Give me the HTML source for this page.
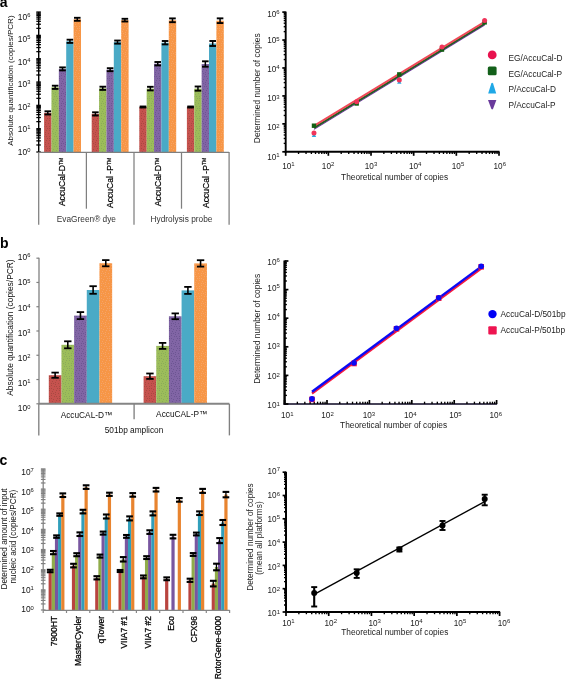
<!DOCTYPE html>
<html><head><meta charset="utf-8"><style>
html,body{margin:0;padding:0;background:#fff;}
svg{display:block;font-family:"Liberation Sans", sans-serif;will-change:transform;}
</style></head><body>
<svg width="566" height="680" viewBox="0 0 566 680">
<defs><pattern id="p0" width="10" height="10" patternUnits="userSpaceOnUse"><rect width="10" height="10" fill="#c6524e"/><rect x="5" y="2" width="1" height="1" fill="#a84a42"/><rect x="6" y="0" width="1" height="1" fill="#a84a42"/><rect x="1" y="8" width="1" height="1" fill="#a84a42"/><rect x="1" y="5" width="1" height="1" fill="#a84a42"/><rect x="9" y="0" width="1" height="1" fill="#a84a42"/><rect x="8" y="3" width="1" height="1" fill="#a84a42"/><rect x="6" y="6" width="1" height="1" fill="#a84a42"/><rect x="1" y="3" width="1" height="1" fill="#a84a42"/><rect x="3" y="9" width="1" height="1" fill="#a84a42"/><rect x="9" y="6" width="1" height="1" fill="#a84a42"/><rect x="7" y="8" width="1" height="1" fill="#a84a42"/><rect x="4" y="6" width="1" height="1" fill="#a84a42"/><rect x="2" y="1" width="1" height="1" fill="#a84a42"/><rect x="3" y="3" width="1" height="1" fill="#a84a42"/><rect x="5" y="4" width="1" height="1" fill="#a84a42"/><rect x="9" y="8" width="1" height="1" fill="#a84a42"/></pattern><pattern id="p1" width="10" height="10" patternUnits="userSpaceOnUse"><rect width="10" height="10" fill="#9cbd5a"/><rect x="5" y="2" width="1" height="1" fill="#8aab5a"/><rect x="6" y="0" width="1" height="1" fill="#8aab5a"/><rect x="1" y="8" width="1" height="1" fill="#8aab5a"/><rect x="1" y="5" width="1" height="1" fill="#8aab5a"/><rect x="9" y="0" width="1" height="1" fill="#8aab5a"/><rect x="8" y="3" width="1" height="1" fill="#8aab5a"/><rect x="6" y="6" width="1" height="1" fill="#8aab5a"/><rect x="1" y="3" width="1" height="1" fill="#8aab5a"/><rect x="3" y="9" width="1" height="1" fill="#8aab5a"/><rect x="9" y="6" width="1" height="1" fill="#8aab5a"/><rect x="7" y="8" width="1" height="1" fill="#8aab5a"/><rect x="4" y="6" width="1" height="1" fill="#8aab5a"/><rect x="2" y="1" width="1" height="1" fill="#8aab5a"/><rect x="3" y="3" width="1" height="1" fill="#8aab5a"/><rect x="5" y="4" width="1" height="1" fill="#8aab5a"/><rect x="9" y="8" width="1" height="1" fill="#8aab5a"/></pattern><pattern id="p2" width="10" height="10" patternUnits="userSpaceOnUse"><rect width="10" height="10" fill="#8165a5"/><rect x="5" y="2" width="1" height="1" fill="#6c5692"/><rect x="6" y="0" width="1" height="1" fill="#6c5692"/><rect x="1" y="8" width="1" height="1" fill="#6c5692"/><rect x="1" y="5" width="1" height="1" fill="#6c5692"/><rect x="9" y="0" width="1" height="1" fill="#6c5692"/><rect x="8" y="3" width="1" height="1" fill="#6c5692"/><rect x="6" y="6" width="1" height="1" fill="#6c5692"/><rect x="1" y="3" width="1" height="1" fill="#6c5692"/><rect x="3" y="9" width="1" height="1" fill="#6c5692"/><rect x="9" y="6" width="1" height="1" fill="#6c5692"/><rect x="7" y="8" width="1" height="1" fill="#6c5692"/><rect x="4" y="6" width="1" height="1" fill="#6c5692"/><rect x="2" y="1" width="1" height="1" fill="#6c5692"/><rect x="3" y="3" width="1" height="1" fill="#6c5692"/><rect x="5" y="4" width="1" height="1" fill="#6c5692"/><rect x="9" y="8" width="1" height="1" fill="#6c5692"/></pattern><pattern id="p4" width="10" height="10" patternUnits="userSpaceOnUse"><rect width="10" height="10" fill="#f79646"/><rect x="5" y="2" width="1" height="1" fill="#f6a466"/><rect x="6" y="0" width="1" height="1" fill="#f6a466"/><rect x="1" y="8" width="1" height="1" fill="#f6a466"/><rect x="1" y="5" width="1" height="1" fill="#f6a466"/><rect x="9" y="0" width="1" height="1" fill="#f6a466"/><rect x="8" y="3" width="1" height="1" fill="#f6a466"/><rect x="6" y="6" width="1" height="1" fill="#f6a466"/><rect x="1" y="3" width="1" height="1" fill="#f6a466"/><rect x="3" y="9" width="1" height="1" fill="#f6a466"/><rect x="9" y="6" width="1" height="1" fill="#f6a466"/><rect x="7" y="8" width="1" height="1" fill="#f6a466"/><rect x="4" y="6" width="1" height="1" fill="#f6a466"/><rect x="2" y="1" width="1" height="1" fill="#f6a466"/><rect x="3" y="3" width="1" height="1" fill="#f6a466"/><rect x="5" y="4" width="1" height="1" fill="#f6a466"/><rect x="9" y="8" width="1" height="1" fill="#f6a466"/></pattern></defs>
<rect width="566" height="680" fill="#fff"/>
<text x="-0.3" y="7.4" font-size="14" text-anchor="start" fill="#000" font-weight="bold">a</text>
<rect x="44.1" y="112.9" width="7.42" height="39.1" fill="url(#p0)"/>
<rect x="51.47" y="87.3" width="7.42" height="64.7" fill="url(#p1)"/>
<rect x="58.84" y="68.9" width="7.42" height="83.1" fill="url(#p2)"/>
<rect x="66.21" y="41.3" width="7.42" height="110.7" fill="#4aaac6"/>
<rect x="73.58" y="19.3" width="7.42" height="132.7" fill="url(#p4)"/>
<rect x="91.7" y="113.9" width="7.42" height="38.1" fill="url(#p0)"/>
<rect x="99.07" y="88.3" width="7.42" height="63.7" fill="url(#p1)"/>
<rect x="106.44" y="69.7" width="7.42" height="82.3" fill="url(#p2)"/>
<rect x="113.81" y="42.1" width="7.42" height="109.9" fill="#4aaac6"/>
<rect x="121.18" y="20.15" width="7.42" height="131.85" fill="url(#p4)"/>
<rect x="139.3" y="107" width="7.42" height="45" fill="url(#p0)"/>
<rect x="146.67" y="88.6" width="7.42" height="63.4" fill="url(#p1)"/>
<rect x="154.04" y="63.7" width="7.42" height="88.3" fill="url(#p2)"/>
<rect x="161.41" y="42.7" width="7.42" height="109.3" fill="#4aaac6"/>
<rect x="168.78" y="20.3" width="7.42" height="131.7" fill="url(#p4)"/>
<rect x="186.9" y="107" width="7.42" height="45" fill="url(#p0)"/>
<rect x="194.27" y="88.6" width="7.42" height="63.4" fill="url(#p1)"/>
<rect x="201.64" y="64" width="7.42" height="88" fill="url(#p2)"/>
<rect x="209.01" y="43.5" width="7.42" height="108.5" fill="#4aaac6"/>
<rect x="216.38" y="20.7" width="7.42" height="131.3" fill="url(#p4)"/>
<line x1="47.79" y1="111.3" x2="47.79" y2="114.5" stroke="#000" stroke-width="1.5" />
<line x1="44.49" y1="111.3" x2="51.09" y2="111.3" stroke="#000" stroke-width="1.9" />
<line x1="44.49" y1="114.5" x2="51.09" y2="114.5" stroke="#000" stroke-width="1.9" />
<line x1="55.16" y1="85.7" x2="55.16" y2="88.9" stroke="#000" stroke-width="1.5" />
<line x1="51.86" y1="85.7" x2="58.45" y2="85.7" stroke="#000" stroke-width="1.9" />
<line x1="51.86" y1="88.9" x2="58.45" y2="88.9" stroke="#000" stroke-width="1.9" />
<line x1="62.53" y1="67.4" x2="62.53" y2="70.4" stroke="#000" stroke-width="1.5" />
<line x1="59.23" y1="67.4" x2="65.83" y2="67.4" stroke="#000" stroke-width="1.9" />
<line x1="59.23" y1="70.4" x2="65.83" y2="70.4" stroke="#000" stroke-width="1.9" />
<line x1="69.9" y1="39.7" x2="69.9" y2="42.9" stroke="#000" stroke-width="1.5" />
<line x1="66.6" y1="39.7" x2="73.2" y2="39.7" stroke="#000" stroke-width="1.9" />
<line x1="66.6" y1="42.9" x2="73.2" y2="42.9" stroke="#000" stroke-width="1.9" />
<line x1="77.27" y1="17.8" x2="77.27" y2="20.8" stroke="#000" stroke-width="1.5" />
<line x1="73.97" y1="17.8" x2="80.56" y2="17.8" stroke="#000" stroke-width="1.9" />
<line x1="73.97" y1="20.8" x2="80.56" y2="20.8" stroke="#000" stroke-width="1.9" />
<line x1="95.39" y1="112.3" x2="95.39" y2="115.5" stroke="#000" stroke-width="1.5" />
<line x1="92.09" y1="112.3" x2="98.69" y2="112.3" stroke="#000" stroke-width="1.9" />
<line x1="92.09" y1="115.5" x2="98.69" y2="115.5" stroke="#000" stroke-width="1.9" />
<line x1="102.76" y1="86.7" x2="102.76" y2="89.9" stroke="#000" stroke-width="1.5" />
<line x1="99.46" y1="86.7" x2="106.06" y2="86.7" stroke="#000" stroke-width="1.9" />
<line x1="99.46" y1="89.9" x2="106.06" y2="89.9" stroke="#000" stroke-width="1.9" />
<line x1="110.12" y1="68.2" x2="110.12" y2="71.2" stroke="#000" stroke-width="1.5" />
<line x1="106.83" y1="68.2" x2="113.42" y2="68.2" stroke="#000" stroke-width="1.9" />
<line x1="106.83" y1="71.2" x2="113.42" y2="71.2" stroke="#000" stroke-width="1.9" />
<line x1="117.5" y1="40.55" x2="117.5" y2="43.65" stroke="#000" stroke-width="1.5" />
<line x1="114.2" y1="40.55" x2="120.8" y2="40.55" stroke="#000" stroke-width="1.9" />
<line x1="114.2" y1="43.65" x2="120.8" y2="43.65" stroke="#000" stroke-width="1.9" />
<line x1="124.87" y1="18.8" x2="124.87" y2="21.5" stroke="#000" stroke-width="1.5" />
<line x1="121.57" y1="18.8" x2="128.17" y2="18.8" stroke="#000" stroke-width="1.9" />
<line x1="121.57" y1="21.5" x2="128.17" y2="21.5" stroke="#000" stroke-width="1.9" />
<line x1="142.99" y1="106.5" x2="142.99" y2="107.5" stroke="#000" stroke-width="1.5" />
<line x1="139.69" y1="106.5" x2="146.29" y2="106.5" stroke="#000" stroke-width="1.9" />
<line x1="139.69" y1="107.5" x2="146.29" y2="107.5" stroke="#000" stroke-width="1.9" />
<line x1="150.36" y1="86.8" x2="150.36" y2="90.4" stroke="#000" stroke-width="1.5" />
<line x1="147.06" y1="86.8" x2="153.66" y2="86.8" stroke="#000" stroke-width="1.9" />
<line x1="147.06" y1="90.4" x2="153.66" y2="90.4" stroke="#000" stroke-width="1.9" />
<line x1="157.73" y1="62" x2="157.73" y2="65.4" stroke="#000" stroke-width="1.5" />
<line x1="154.43" y1="62" x2="161.03" y2="62" stroke="#000" stroke-width="1.9" />
<line x1="154.43" y1="65.4" x2="161.03" y2="65.4" stroke="#000" stroke-width="1.9" />
<line x1="165.1" y1="41" x2="165.1" y2="44.4" stroke="#000" stroke-width="1.5" />
<line x1="161.8" y1="41" x2="168.4" y2="41" stroke="#000" stroke-width="1.9" />
<line x1="161.8" y1="44.4" x2="168.4" y2="44.4" stroke="#000" stroke-width="1.9" />
<line x1="172.47" y1="18.4" x2="172.47" y2="22.2" stroke="#000" stroke-width="1.5" />
<line x1="169.16" y1="18.4" x2="175.77" y2="18.4" stroke="#000" stroke-width="1.9" />
<line x1="169.16" y1="22.2" x2="175.77" y2="22.2" stroke="#000" stroke-width="1.9" />
<line x1="190.59" y1="106.5" x2="190.59" y2="107.5" stroke="#000" stroke-width="1.5" />
<line x1="187.28" y1="106.5" x2="193.89" y2="106.5" stroke="#000" stroke-width="1.9" />
<line x1="187.28" y1="107.5" x2="193.89" y2="107.5" stroke="#000" stroke-width="1.9" />
<line x1="197.96" y1="86.5" x2="197.96" y2="90.7" stroke="#000" stroke-width="1.5" />
<line x1="194.66" y1="86.5" x2="201.26" y2="86.5" stroke="#000" stroke-width="1.9" />
<line x1="194.66" y1="90.7" x2="201.26" y2="90.7" stroke="#000" stroke-width="1.9" />
<line x1="205.33" y1="61.3" x2="205.33" y2="66.7" stroke="#000" stroke-width="1.5" />
<line x1="202.03" y1="61.3" x2="208.63" y2="61.3" stroke="#000" stroke-width="1.9" />
<line x1="202.03" y1="66.7" x2="208.63" y2="66.7" stroke="#000" stroke-width="1.9" />
<line x1="212.69" y1="41" x2="212.69" y2="46" stroke="#000" stroke-width="1.5" />
<line x1="209.39" y1="41" x2="216" y2="41" stroke="#000" stroke-width="1.9" />
<line x1="209.39" y1="46" x2="216" y2="46" stroke="#000" stroke-width="1.9" />
<line x1="220.06" y1="18.35" x2="220.06" y2="23.05" stroke="#000" stroke-width="1.5" />
<line x1="216.76" y1="18.35" x2="223.37" y2="18.35" stroke="#000" stroke-width="1.9" />
<line x1="216.76" y1="23.05" x2="223.37" y2="23.05" stroke="#000" stroke-width="1.9" />
<line x1="38.7" y1="12" x2="38.7" y2="152" stroke="#000" stroke-width="1.4" />
<line x1="36.3" y1="152" x2="40.9" y2="152" stroke="#000" stroke-width="1.25" />
<line x1="36.3" y1="144.98" x2="40.9" y2="144.98" stroke="#000" stroke-width="1.25" />
<line x1="36.3" y1="140.87" x2="40.9" y2="140.87" stroke="#000" stroke-width="1.25" />
<line x1="36.3" y1="137.95" x2="40.9" y2="137.95" stroke="#000" stroke-width="1.25" />
<line x1="36.3" y1="135.69" x2="40.9" y2="135.69" stroke="#000" stroke-width="1.25" />
<line x1="36.3" y1="133.85" x2="40.9" y2="133.85" stroke="#000" stroke-width="1.25" />
<line x1="36.3" y1="132.28" x2="40.9" y2="132.28" stroke="#000" stroke-width="1.25" />
<line x1="36.3" y1="130.93" x2="40.9" y2="130.93" stroke="#000" stroke-width="1.25" />
<line x1="36.3" y1="129.74" x2="40.9" y2="129.74" stroke="#000" stroke-width="1.25" />
<line x1="36.3" y1="128.67" x2="40.9" y2="128.67" stroke="#000" stroke-width="1.25" />
<line x1="36.3" y1="121.65" x2="40.9" y2="121.65" stroke="#000" stroke-width="1.25" />
<line x1="36.3" y1="117.54" x2="40.9" y2="117.54" stroke="#000" stroke-width="1.25" />
<line x1="36.3" y1="114.62" x2="40.9" y2="114.62" stroke="#000" stroke-width="1.25" />
<line x1="36.3" y1="112.36" x2="40.9" y2="112.36" stroke="#000" stroke-width="1.25" />
<line x1="36.3" y1="110.52" x2="40.9" y2="110.52" stroke="#000" stroke-width="1.25" />
<line x1="36.3" y1="108.95" x2="40.9" y2="108.95" stroke="#000" stroke-width="1.25" />
<line x1="36.3" y1="107.6" x2="40.9" y2="107.6" stroke="#000" stroke-width="1.25" />
<line x1="36.3" y1="106.41" x2="40.9" y2="106.41" stroke="#000" stroke-width="1.25" />
<line x1="36.3" y1="105.34" x2="40.9" y2="105.34" stroke="#000" stroke-width="1.25" />
<line x1="36.3" y1="98.32" x2="40.9" y2="98.32" stroke="#000" stroke-width="1.25" />
<line x1="36.3" y1="94.21" x2="40.9" y2="94.21" stroke="#000" stroke-width="1.25" />
<line x1="36.3" y1="91.29" x2="40.9" y2="91.29" stroke="#000" stroke-width="1.25" />
<line x1="36.3" y1="89.03" x2="40.9" y2="89.03" stroke="#000" stroke-width="1.25" />
<line x1="36.3" y1="87.19" x2="40.9" y2="87.19" stroke="#000" stroke-width="1.25" />
<line x1="36.3" y1="85.62" x2="40.9" y2="85.62" stroke="#000" stroke-width="1.25" />
<line x1="36.3" y1="84.27" x2="40.9" y2="84.27" stroke="#000" stroke-width="1.25" />
<line x1="36.3" y1="83.08" x2="40.9" y2="83.08" stroke="#000" stroke-width="1.25" />
<line x1="36.3" y1="82.01" x2="40.9" y2="82.01" stroke="#000" stroke-width="1.25" />
<line x1="36.3" y1="74.99" x2="40.9" y2="74.99" stroke="#000" stroke-width="1.25" />
<line x1="36.3" y1="70.88" x2="40.9" y2="70.88" stroke="#000" stroke-width="1.25" />
<line x1="36.3" y1="67.96" x2="40.9" y2="67.96" stroke="#000" stroke-width="1.25" />
<line x1="36.3" y1="65.7" x2="40.9" y2="65.7" stroke="#000" stroke-width="1.25" />
<line x1="36.3" y1="63.86" x2="40.9" y2="63.86" stroke="#000" stroke-width="1.25" />
<line x1="36.3" y1="62.29" x2="40.9" y2="62.29" stroke="#000" stroke-width="1.25" />
<line x1="36.3" y1="60.94" x2="40.9" y2="60.94" stroke="#000" stroke-width="1.25" />
<line x1="36.3" y1="59.75" x2="40.9" y2="59.75" stroke="#000" stroke-width="1.25" />
<line x1="36.3" y1="58.68" x2="40.9" y2="58.68" stroke="#000" stroke-width="1.25" />
<line x1="36.3" y1="51.66" x2="40.9" y2="51.66" stroke="#000" stroke-width="1.25" />
<line x1="36.3" y1="47.55" x2="40.9" y2="47.55" stroke="#000" stroke-width="1.25" />
<line x1="36.3" y1="44.63" x2="40.9" y2="44.63" stroke="#000" stroke-width="1.25" />
<line x1="36.3" y1="42.37" x2="40.9" y2="42.37" stroke="#000" stroke-width="1.25" />
<line x1="36.3" y1="40.53" x2="40.9" y2="40.53" stroke="#000" stroke-width="1.25" />
<line x1="36.3" y1="38.96" x2="40.9" y2="38.96" stroke="#000" stroke-width="1.25" />
<line x1="36.3" y1="37.61" x2="40.9" y2="37.61" stroke="#000" stroke-width="1.25" />
<line x1="36.3" y1="36.42" x2="40.9" y2="36.42" stroke="#000" stroke-width="1.25" />
<line x1="36.3" y1="35.35" x2="40.9" y2="35.35" stroke="#000" stroke-width="1.25" />
<line x1="36.3" y1="28.33" x2="40.9" y2="28.33" stroke="#000" stroke-width="1.25" />
<line x1="36.3" y1="24.22" x2="40.9" y2="24.22" stroke="#000" stroke-width="1.25" />
<line x1="36.3" y1="21.3" x2="40.9" y2="21.3" stroke="#000" stroke-width="1.25" />
<line x1="36.3" y1="19.04" x2="40.9" y2="19.04" stroke="#000" stroke-width="1.25" />
<line x1="36.3" y1="17.2" x2="40.9" y2="17.2" stroke="#000" stroke-width="1.25" />
<line x1="36.3" y1="15.63" x2="40.9" y2="15.63" stroke="#000" stroke-width="1.25" />
<line x1="36.3" y1="14.28" x2="40.9" y2="14.28" stroke="#000" stroke-width="1.25" />
<line x1="36.3" y1="13.09" x2="40.9" y2="13.09" stroke="#000" stroke-width="1.25" />
<line x1="36.3" y1="12.02" x2="40.9" y2="12.02" stroke="#000" stroke-width="1.25" />
<text x="30.4" y="154.7" font-size="8.4" text-anchor="end" fill="#111">10<tspan font-size="5.8" dy="-2.8">0</tspan></text>
<text x="30.4" y="132.2" font-size="8.4" text-anchor="end" fill="#111">10<tspan font-size="5.8" dy="-2.8">1</tspan></text>
<text x="30.4" y="109.7" font-size="8.4" text-anchor="end" fill="#111">10<tspan font-size="5.8" dy="-2.8">2</tspan></text>
<text x="30.4" y="87.2" font-size="8.4" text-anchor="end" fill="#111">10<tspan font-size="5.8" dy="-2.8">3</tspan></text>
<text x="30.4" y="64.7" font-size="8.4" text-anchor="end" fill="#111">10<tspan font-size="5.8" dy="-2.8">4</tspan></text>
<text x="30.4" y="42.2" font-size="8.4" text-anchor="end" fill="#111">10<tspan font-size="5.8" dy="-2.8">5</tspan></text>
<text x="30.4" y="19.7" font-size="8.4" text-anchor="end" fill="#111">10<tspan font-size="5.8" dy="-2.8">6</tspan></text>
<text x="12.6" y="80.6" font-size="8" text-anchor="middle" fill="#111" transform="rotate(-90 12.6 80.6)" >Absolute quantification (copies/PCR)</text>
<line x1="38.7" y1="152.45" x2="229.1" y2="152.45" stroke="#7f7f7f" stroke-width="1.2" />
<line x1="38.7" y1="152" x2="38.7" y2="224.7" stroke="#7f7f7f" stroke-width="1.25" />
<line x1="86.4" y1="152" x2="86.4" y2="208.7" stroke="#7f7f7f" stroke-width="1.25" />
<line x1="134" y1="152" x2="134" y2="224.7" stroke="#7f7f7f" stroke-width="1.25" />
<line x1="181.5" y1="152" x2="181.5" y2="208.7" stroke="#7f7f7f" stroke-width="1.25" />
<line x1="229.1" y1="152" x2="229.1" y2="224.7" stroke="#7f7f7f" stroke-width="1.25" />
<text x="65.5" y="157.8" font-size="8.6" text-anchor="end" fill="#000" transform="rotate(-90 65.5 157.8)" stroke="#000" stroke-width="0.2">AccuCal-D<tspan font-size="5" dy="-2.5">TM</tspan></text>
<text x="113.1" y="157.8" font-size="8.6" text-anchor="end" fill="#000" transform="rotate(-90 113.1 157.8)" stroke="#000" stroke-width="0.2">AccuCal -P<tspan font-size="5" dy="-2.5">TM</tspan></text>
<text x="161.2" y="157.8" font-size="8.6" text-anchor="end" fill="#000" transform="rotate(-90 161.2 157.8)" stroke="#000" stroke-width="0.2">AccuCal-D<tspan font-size="5" dy="-2.5">TM</tspan></text>
<text x="208.8" y="157.8" font-size="8.6" text-anchor="end" fill="#000" transform="rotate(-90 208.8 157.8)" stroke="#000" stroke-width="0.2">AccuCal -P<tspan font-size="5" dy="-2.5">TM</tspan></text>
<text x="86.4" y="222" font-size="8.3" text-anchor="middle" fill="#333" >EvaGreen® dye</text>
<text x="181.5" y="222" font-size="8.3" text-anchor="middle" fill="#333" >Hydrolysis probe</text>
<line x1="285.7" y1="11.6" x2="285.7" y2="152.7" stroke="#000" stroke-width="1.9" />
<line x1="284.8" y1="151.8" x2="499.5" y2="151.8" stroke="#000" stroke-width="1.9" />
<line x1="282.3" y1="151.8" x2="285.7" y2="151.8" stroke="#000" stroke-width="1.7" />
<line x1="283.7" y1="143.39" x2="285.7" y2="143.39" stroke="#000" stroke-width="1.35" />
<line x1="283.7" y1="138.47" x2="285.7" y2="138.47" stroke="#000" stroke-width="1.35" />
<line x1="283.7" y1="134.98" x2="285.7" y2="134.98" stroke="#000" stroke-width="1.35" />
<line x1="283.7" y1="132.27" x2="285.7" y2="132.27" stroke="#000" stroke-width="1.35" />
<line x1="283.7" y1="130.06" x2="285.7" y2="130.06" stroke="#000" stroke-width="1.35" />
<line x1="283.7" y1="128.19" x2="285.7" y2="128.19" stroke="#000" stroke-width="1.35" />
<line x1="283.7" y1="126.57" x2="285.7" y2="126.57" stroke="#000" stroke-width="1.35" />
<line x1="283.7" y1="125.14" x2="285.7" y2="125.14" stroke="#000" stroke-width="1.35" />
<line x1="282.3" y1="123.86" x2="285.7" y2="123.86" stroke="#000" stroke-width="1.7" />
<line x1="283.7" y1="115.45" x2="285.7" y2="115.45" stroke="#000" stroke-width="1.35" />
<line x1="283.7" y1="110.53" x2="285.7" y2="110.53" stroke="#000" stroke-width="1.35" />
<line x1="283.7" y1="107.04" x2="285.7" y2="107.04" stroke="#000" stroke-width="1.35" />
<line x1="283.7" y1="104.33" x2="285.7" y2="104.33" stroke="#000" stroke-width="1.35" />
<line x1="283.7" y1="102.12" x2="285.7" y2="102.12" stroke="#000" stroke-width="1.35" />
<line x1="283.7" y1="100.25" x2="285.7" y2="100.25" stroke="#000" stroke-width="1.35" />
<line x1="283.7" y1="98.63" x2="285.7" y2="98.63" stroke="#000" stroke-width="1.35" />
<line x1="283.7" y1="97.2" x2="285.7" y2="97.2" stroke="#000" stroke-width="1.35" />
<line x1="282.3" y1="95.92" x2="285.7" y2="95.92" stroke="#000" stroke-width="1.7" />
<line x1="283.7" y1="87.51" x2="285.7" y2="87.51" stroke="#000" stroke-width="1.35" />
<line x1="283.7" y1="82.59" x2="285.7" y2="82.59" stroke="#000" stroke-width="1.35" />
<line x1="283.7" y1="79.1" x2="285.7" y2="79.1" stroke="#000" stroke-width="1.35" />
<line x1="283.7" y1="76.39" x2="285.7" y2="76.39" stroke="#000" stroke-width="1.35" />
<line x1="283.7" y1="74.18" x2="285.7" y2="74.18" stroke="#000" stroke-width="1.35" />
<line x1="283.7" y1="72.31" x2="285.7" y2="72.31" stroke="#000" stroke-width="1.35" />
<line x1="283.7" y1="70.69" x2="285.7" y2="70.69" stroke="#000" stroke-width="1.35" />
<line x1="283.7" y1="69.26" x2="285.7" y2="69.26" stroke="#000" stroke-width="1.35" />
<line x1="282.3" y1="67.98" x2="285.7" y2="67.98" stroke="#000" stroke-width="1.7" />
<line x1="283.7" y1="59.57" x2="285.7" y2="59.57" stroke="#000" stroke-width="1.35" />
<line x1="283.7" y1="54.65" x2="285.7" y2="54.65" stroke="#000" stroke-width="1.35" />
<line x1="283.7" y1="51.16" x2="285.7" y2="51.16" stroke="#000" stroke-width="1.35" />
<line x1="283.7" y1="48.45" x2="285.7" y2="48.45" stroke="#000" stroke-width="1.35" />
<line x1="283.7" y1="46.24" x2="285.7" y2="46.24" stroke="#000" stroke-width="1.35" />
<line x1="283.7" y1="44.37" x2="285.7" y2="44.37" stroke="#000" stroke-width="1.35" />
<line x1="283.7" y1="42.75" x2="285.7" y2="42.75" stroke="#000" stroke-width="1.35" />
<line x1="283.7" y1="41.32" x2="285.7" y2="41.32" stroke="#000" stroke-width="1.35" />
<line x1="282.3" y1="40.04" x2="285.7" y2="40.04" stroke="#000" stroke-width="1.7" />
<line x1="283.7" y1="31.63" x2="285.7" y2="31.63" stroke="#000" stroke-width="1.35" />
<line x1="283.7" y1="26.71" x2="285.7" y2="26.71" stroke="#000" stroke-width="1.35" />
<line x1="283.7" y1="23.22" x2="285.7" y2="23.22" stroke="#000" stroke-width="1.35" />
<line x1="283.7" y1="20.51" x2="285.7" y2="20.51" stroke="#000" stroke-width="1.35" />
<line x1="283.7" y1="18.3" x2="285.7" y2="18.3" stroke="#000" stroke-width="1.35" />
<line x1="283.7" y1="16.43" x2="285.7" y2="16.43" stroke="#000" stroke-width="1.35" />
<line x1="283.7" y1="14.81" x2="285.7" y2="14.81" stroke="#000" stroke-width="1.35" />
<line x1="283.7" y1="13.38" x2="285.7" y2="13.38" stroke="#000" stroke-width="1.35" />
<line x1="282.3" y1="12.1" x2="285.7" y2="12.1" stroke="#000" stroke-width="1.7" />
<line x1="285.7" y1="151.8" x2="285.7" y2="155.8" stroke="#000" stroke-width="1.7" />
<line x1="298.54" y1="151.8" x2="298.54" y2="154" stroke="#000" stroke-width="1.35" />
<line x1="306.05" y1="151.8" x2="306.05" y2="154" stroke="#000" stroke-width="1.35" />
<line x1="311.38" y1="151.8" x2="311.38" y2="154" stroke="#000" stroke-width="1.35" />
<line x1="315.52" y1="151.8" x2="315.52" y2="154" stroke="#000" stroke-width="1.35" />
<line x1="318.9" y1="151.8" x2="318.9" y2="154" stroke="#000" stroke-width="1.35" />
<line x1="321.75" y1="151.8" x2="321.75" y2="154" stroke="#000" stroke-width="1.35" />
<line x1="324.23" y1="151.8" x2="324.23" y2="154" stroke="#000" stroke-width="1.35" />
<line x1="326.41" y1="151.8" x2="326.41" y2="154" stroke="#000" stroke-width="1.35" />
<line x1="328.36" y1="151.8" x2="328.36" y2="155.8" stroke="#000" stroke-width="1.7" />
<line x1="341.2" y1="151.8" x2="341.2" y2="154" stroke="#000" stroke-width="1.35" />
<line x1="348.71" y1="151.8" x2="348.71" y2="154" stroke="#000" stroke-width="1.35" />
<line x1="354.04" y1="151.8" x2="354.04" y2="154" stroke="#000" stroke-width="1.35" />
<line x1="358.18" y1="151.8" x2="358.18" y2="154" stroke="#000" stroke-width="1.35" />
<line x1="361.56" y1="151.8" x2="361.56" y2="154" stroke="#000" stroke-width="1.35" />
<line x1="364.41" y1="151.8" x2="364.41" y2="154" stroke="#000" stroke-width="1.35" />
<line x1="366.89" y1="151.8" x2="366.89" y2="154" stroke="#000" stroke-width="1.35" />
<line x1="369.07" y1="151.8" x2="369.07" y2="154" stroke="#000" stroke-width="1.35" />
<line x1="371.02" y1="151.8" x2="371.02" y2="155.8" stroke="#000" stroke-width="1.7" />
<line x1="383.86" y1="151.8" x2="383.86" y2="154" stroke="#000" stroke-width="1.35" />
<line x1="391.37" y1="151.8" x2="391.37" y2="154" stroke="#000" stroke-width="1.35" />
<line x1="396.7" y1="151.8" x2="396.7" y2="154" stroke="#000" stroke-width="1.35" />
<line x1="400.84" y1="151.8" x2="400.84" y2="154" stroke="#000" stroke-width="1.35" />
<line x1="404.22" y1="151.8" x2="404.22" y2="154" stroke="#000" stroke-width="1.35" />
<line x1="407.07" y1="151.8" x2="407.07" y2="154" stroke="#000" stroke-width="1.35" />
<line x1="409.55" y1="151.8" x2="409.55" y2="154" stroke="#000" stroke-width="1.35" />
<line x1="411.73" y1="151.8" x2="411.73" y2="154" stroke="#000" stroke-width="1.35" />
<line x1="413.68" y1="151.8" x2="413.68" y2="155.8" stroke="#000" stroke-width="1.7" />
<line x1="426.52" y1="151.8" x2="426.52" y2="154" stroke="#000" stroke-width="1.35" />
<line x1="434.03" y1="151.8" x2="434.03" y2="154" stroke="#000" stroke-width="1.35" />
<line x1="439.36" y1="151.8" x2="439.36" y2="154" stroke="#000" stroke-width="1.35" />
<line x1="443.5" y1="151.8" x2="443.5" y2="154" stroke="#000" stroke-width="1.35" />
<line x1="446.88" y1="151.8" x2="446.88" y2="154" stroke="#000" stroke-width="1.35" />
<line x1="449.73" y1="151.8" x2="449.73" y2="154" stroke="#000" stroke-width="1.35" />
<line x1="452.21" y1="151.8" x2="452.21" y2="154" stroke="#000" stroke-width="1.35" />
<line x1="454.39" y1="151.8" x2="454.39" y2="154" stroke="#000" stroke-width="1.35" />
<line x1="456.34" y1="151.8" x2="456.34" y2="155.8" stroke="#000" stroke-width="1.7" />
<line x1="469.18" y1="151.8" x2="469.18" y2="154" stroke="#000" stroke-width="1.35" />
<line x1="476.69" y1="151.8" x2="476.69" y2="154" stroke="#000" stroke-width="1.35" />
<line x1="482.02" y1="151.8" x2="482.02" y2="154" stroke="#000" stroke-width="1.35" />
<line x1="486.16" y1="151.8" x2="486.16" y2="154" stroke="#000" stroke-width="1.35" />
<line x1="489.54" y1="151.8" x2="489.54" y2="154" stroke="#000" stroke-width="1.35" />
<line x1="492.39" y1="151.8" x2="492.39" y2="154" stroke="#000" stroke-width="1.35" />
<line x1="494.87" y1="151.8" x2="494.87" y2="154" stroke="#000" stroke-width="1.35" />
<line x1="497.05" y1="151.8" x2="497.05" y2="154" stroke="#000" stroke-width="1.35" />
<line x1="499" y1="151.8" x2="499" y2="155.8" stroke="#000" stroke-width="1.7" />
<text x="279.6" y="159.6" font-size="8.2" text-anchor="end" fill="#222">10<tspan font-size="6" dy="-2.7">1</tspan></text>
<text x="279.6" y="130.3" font-size="8.2" text-anchor="end" fill="#222">10<tspan font-size="6" dy="-2.7">2</tspan></text>
<text x="279.6" y="101.4" font-size="8.2" text-anchor="end" fill="#222">10<tspan font-size="6" dy="-2.7">3</tspan></text>
<text x="279.6" y="71.5" font-size="8.2" text-anchor="end" fill="#222">10<tspan font-size="6" dy="-2.7">4</tspan></text>
<text x="279.6" y="43.2" font-size="8.2" text-anchor="end" fill="#222">10<tspan font-size="6" dy="-2.7">5</tspan></text>
<text x="279.6" y="16.8" font-size="8.2" text-anchor="end" fill="#222">10<tspan font-size="6" dy="-2.7">6</tspan></text>
<text x="288.4" y="169" font-size="8.2" text-anchor="middle" fill="#222">10<tspan font-size="6" dy="-2.7">1</tspan></text>
<text x="328.1" y="169" font-size="8.2" text-anchor="middle" fill="#222">10<tspan font-size="6" dy="-2.7">2</tspan></text>
<text x="371" y="169" font-size="8.2" text-anchor="middle" fill="#222">10<tspan font-size="6" dy="-2.7">3</tspan></text>
<text x="415.2" y="169" font-size="8.2" text-anchor="middle" fill="#222">10<tspan font-size="6" dy="-2.7">4</tspan></text>
<text x="458" y="169" font-size="8.2" text-anchor="middle" fill="#222">10<tspan font-size="6" dy="-2.7">5</tspan></text>
<text x="499.8" y="169" font-size="8.2" text-anchor="middle" fill="#222">10<tspan font-size="6" dy="-2.7">6</tspan></text>
<text x="259.9" y="88.2" font-size="8.4" text-anchor="middle" fill="#222" transform="rotate(-90 259.9 88.2)" >Determined number of copies</text>
<text x="394.6" y="179.5" font-size="8.3" text-anchor="middle" fill="#222" >Theoretical number of copies</text>
<line x1="313.98" y1="129.4" x2="484.62" y2="25.0" stroke="#7030a0" stroke-width="1.1"/>
<line x1="313.98" y1="127.9" x2="484.62" y2="23.7" stroke="#1d5e20" stroke-width="2"/>
<line x1="313.98" y1="125.9" x2="484.62" y2="21.8" stroke="#f04a58" stroke-width="2"/>
<polygon points="311.78,137 316.18,137 313.98,133" fill="#29aae2"/>
<polygon points="354.44,104.8 358.84,104.8 356.64,100.8" fill="#29aae2"/>
<polygon points="397.1,83.8 401.5,83.8 399.3,79.8" fill="#29aae2"/>
<polygon points="439.76,50.3 444.16,50.3 441.96,46.3" fill="#29aae2"/>
<polygon points="482.42,23.8 486.82,23.8 484.62,19.8" fill="#29aae2"/>
<rect x="311.78" y="123.5" width="4.4" height="4.4" fill="#135e13"/>
<rect x="354.44" y="101.3" width="4.4" height="4.4" fill="#135e13"/>
<rect x="397.1" y="72.2" width="4.4" height="4.4" fill="#135e13"/>
<rect x="439.76" y="47.4" width="4.4" height="4.4" fill="#135e13"/>
<rect x="482.42" y="20.2" width="4.4" height="4.4" fill="#135e13"/>
<circle cx="313.98" cy="133.1" r="2.5" fill="#f0345a"/>
<circle cx="356.64" cy="101.8" r="2.5" fill="#f0345a"/>
<circle cx="399.3" cy="80.1" r="2.5" fill="#f0345a"/>
<circle cx="441.96" cy="46.9" r="2.5" fill="#f0345a"/>
<circle cx="484.62" cy="20.5" r="2.5" fill="#f0345a"/>
<circle cx="492.2" cy="54.9" r="4.4" fill="#e8124e"/>
<rect x="487.8" y="66.6" width="8.8" height="8.6" rx="1.5" fill="#13601a"/>
<path d="M488.2,93.6 L496.2,93.6 L493.1,83.4 Q492.2,82.2 491.3,83.4 Z" fill="#1fa8e6"/>
<path d="M488,100.0 L496.4,100.0 L493.1,108.8 Q492.2,110 491.3,108.8 Z" fill="#6a3b9c"/>
<text x="508.5" y="61.2" font-size="8.3" text-anchor="start" fill="#222" >EG/AccuCal-D</text>
<text x="508.5" y="76.6" font-size="8.3" text-anchor="start" fill="#222" >EG/AccuCal-P</text>
<text x="508.5" y="92" font-size="8.3" text-anchor="start" fill="#222" >P/AccuCal-D</text>
<text x="508.5" y="107.6" font-size="8.3" text-anchor="start" fill="#222" >P/AccuCal-P</text>
<text x="0" y="248" font-size="14" text-anchor="start" fill="#000" font-weight="bold">b</text>
<rect x="48.8" y="375.2" width="12.71" height="28.6" fill="url(#p0)"/>
<rect x="61.46" y="344.8" width="12.71" height="59" fill="url(#p1)"/>
<rect x="74.12" y="315.6" width="12.71" height="88.2" fill="url(#p2)"/>
<rect x="86.78" y="290" width="12.71" height="113.8" fill="#4aaac6"/>
<rect x="99.44" y="263.2" width="12.71" height="140.6" fill="url(#p4)"/>
<rect x="143.6" y="376.2" width="12.71" height="27.6" fill="url(#p0)"/>
<rect x="156.26" y="345.9" width="12.71" height="57.9" fill="url(#p1)"/>
<rect x="168.92" y="316.3" width="12.71" height="87.5" fill="url(#p2)"/>
<rect x="181.58" y="290.4" width="12.71" height="113.4" fill="#4aaac6"/>
<rect x="194.24" y="263.4" width="12.71" height="140.4" fill="url(#p4)"/>
<line x1="55.13" y1="372.6" x2="55.13" y2="377.8" stroke="#000" stroke-width="1.6" />
<line x1="51.43" y1="372.6" x2="58.83" y2="372.6" stroke="#000" stroke-width="1.8" />
<line x1="51.43" y1="377.8" x2="58.83" y2="377.8" stroke="#000" stroke-width="1.8" />
<line x1="67.79" y1="341.3" x2="67.79" y2="348.3" stroke="#000" stroke-width="1.6" />
<line x1="64.09" y1="341.3" x2="71.49" y2="341.3" stroke="#000" stroke-width="1.8" />
<line x1="64.09" y1="348.3" x2="71.49" y2="348.3" stroke="#000" stroke-width="1.8" />
<line x1="80.45" y1="312.1" x2="80.45" y2="319.1" stroke="#000" stroke-width="1.6" />
<line x1="76.75" y1="312.1" x2="84.15" y2="312.1" stroke="#000" stroke-width="1.8" />
<line x1="76.75" y1="319.1" x2="84.15" y2="319.1" stroke="#000" stroke-width="1.8" />
<line x1="93.11" y1="286.2" x2="93.11" y2="293.8" stroke="#000" stroke-width="1.6" />
<line x1="89.41" y1="286.2" x2="96.81" y2="286.2" stroke="#000" stroke-width="1.8" />
<line x1="89.41" y1="293.8" x2="96.81" y2="293.8" stroke="#000" stroke-width="1.8" />
<line x1="105.77" y1="260.1" x2="105.77" y2="266.3" stroke="#000" stroke-width="1.6" />
<line x1="102.07" y1="260.1" x2="109.47" y2="260.1" stroke="#000" stroke-width="1.8" />
<line x1="102.07" y1="266.3" x2="109.47" y2="266.3" stroke="#000" stroke-width="1.8" />
<line x1="149.93" y1="373.5" x2="149.93" y2="378.9" stroke="#000" stroke-width="1.6" />
<line x1="146.23" y1="373.5" x2="153.63" y2="373.5" stroke="#000" stroke-width="1.8" />
<line x1="146.23" y1="378.9" x2="153.63" y2="378.9" stroke="#000" stroke-width="1.8" />
<line x1="162.59" y1="342.9" x2="162.59" y2="348.9" stroke="#000" stroke-width="1.6" />
<line x1="158.89" y1="342.9" x2="166.29" y2="342.9" stroke="#000" stroke-width="1.8" />
<line x1="158.89" y1="348.9" x2="166.29" y2="348.9" stroke="#000" stroke-width="1.8" />
<line x1="175.25" y1="313.4" x2="175.25" y2="319.2" stroke="#000" stroke-width="1.6" />
<line x1="171.55" y1="313.4" x2="178.95" y2="313.4" stroke="#000" stroke-width="1.8" />
<line x1="171.55" y1="319.2" x2="178.95" y2="319.2" stroke="#000" stroke-width="1.8" />
<line x1="187.91" y1="286.9" x2="187.91" y2="293.9" stroke="#000" stroke-width="1.6" />
<line x1="184.21" y1="286.9" x2="191.61" y2="286.9" stroke="#000" stroke-width="1.8" />
<line x1="184.21" y1="293.9" x2="191.61" y2="293.9" stroke="#000" stroke-width="1.8" />
<line x1="200.57" y1="260.2" x2="200.57" y2="266.6" stroke="#000" stroke-width="1.6" />
<line x1="196.87" y1="260.2" x2="204.27" y2="260.2" stroke="#000" stroke-width="1.8" />
<line x1="196.87" y1="266.6" x2="204.27" y2="266.6" stroke="#000" stroke-width="1.8" />
<line x1="39" y1="257.8" x2="39" y2="403.8" stroke="#808080" stroke-width="1.3" />
<line x1="36.4" y1="403.8" x2="39" y2="403.8" stroke="#808080" stroke-width="1.2" />
<text x="30.4" y="411.3" font-size="8.4" text-anchor="end" fill="#111">10<tspan font-size="5.8" dy="-2.8">0</tspan></text>
<line x1="36.4" y1="379.53" x2="39" y2="379.53" stroke="#808080" stroke-width="1.2" />
<text x="30.4" y="386.13" font-size="8.4" text-anchor="end" fill="#111">10<tspan font-size="5.8" dy="-2.8">1</tspan></text>
<line x1="36.4" y1="355.26" x2="39" y2="355.26" stroke="#808080" stroke-width="1.2" />
<text x="30.4" y="360.96" font-size="8.4" text-anchor="end" fill="#111">10<tspan font-size="5.8" dy="-2.8">2</tspan></text>
<line x1="36.4" y1="330.99" x2="39" y2="330.99" stroke="#808080" stroke-width="1.2" />
<text x="30.4" y="335.79" font-size="8.4" text-anchor="end" fill="#111">10<tspan font-size="5.8" dy="-2.8">3</tspan></text>
<line x1="36.4" y1="306.72" x2="39" y2="306.72" stroke="#808080" stroke-width="1.2" />
<text x="30.4" y="310.62" font-size="8.4" text-anchor="end" fill="#111">10<tspan font-size="5.8" dy="-2.8">4</tspan></text>
<line x1="36.4" y1="282.45" x2="39" y2="282.45" stroke="#808080" stroke-width="1.2" />
<text x="30.4" y="285.45" font-size="8.4" text-anchor="end" fill="#111">10<tspan font-size="5.8" dy="-2.8">5</tspan></text>
<line x1="36.4" y1="258.18" x2="39" y2="258.18" stroke="#808080" stroke-width="1.2" />
<text x="30.4" y="260.28" font-size="8.4" text-anchor="end" fill="#111">10<tspan font-size="5.8" dy="-2.8">6</tspan></text>
<text x="12.8" y="327.6" font-size="8.4" text-anchor="middle" fill="#111" transform="rotate(-90 12.8 327.6)" >Absolute quantification (copies/PCR)</text>
<line x1="39" y1="403.8" x2="229.4" y2="403.8" stroke="#858585" stroke-width="1.9" />
<line x1="38.8" y1="403.8" x2="38.8" y2="435.4" stroke="#808080" stroke-width="1.35" />
<line x1="134.1" y1="403.8" x2="134.1" y2="419.2" stroke="#808080" stroke-width="1.35" />
<line x1="229.4" y1="403.8" x2="229.4" y2="435.4" stroke="#808080" stroke-width="1.35" />
<text x="86.5" y="417.5" font-size="8.3" text-anchor="middle" fill="#111" >AccuCAL-D™</text>
<text x="181.7" y="417" font-size="8.3" text-anchor="middle" fill="#111" >AccuCAL-P™</text>
<text x="134" y="433.2" font-size="8.3" text-anchor="middle" fill="#111" >501bp amplicon</text>
<line x1="284.6" y1="260.5" x2="284.6" y2="404.9" stroke="#000" stroke-width="2.4" />
<line x1="283.7" y1="404" x2="497.1" y2="404" stroke="#0a0520" stroke-width="1.7" />
<line x1="284.6" y1="404" x2="288.4" y2="404" stroke="#000" stroke-width="1.7" />
<line x1="284.6" y1="404" x2="284.6" y2="400" stroke="#000" stroke-width="1.7" />
<line x1="284.6" y1="395.39" x2="286.9" y2="395.39" stroke="#000" stroke-width="1.35" />
<line x1="297.36" y1="404" x2="297.36" y2="401.7" stroke="#000" stroke-width="1.35" />
<line x1="284.6" y1="390.35" x2="286.9" y2="390.35" stroke="#000" stroke-width="1.35" />
<line x1="304.83" y1="404" x2="304.83" y2="401.7" stroke="#000" stroke-width="1.35" />
<line x1="284.6" y1="386.78" x2="286.9" y2="386.78" stroke="#000" stroke-width="1.35" />
<line x1="310.13" y1="404" x2="310.13" y2="401.7" stroke="#000" stroke-width="1.35" />
<line x1="284.6" y1="384.01" x2="286.9" y2="384.01" stroke="#000" stroke-width="1.35" />
<line x1="314.24" y1="404" x2="314.24" y2="401.7" stroke="#000" stroke-width="1.35" />
<line x1="284.6" y1="381.74" x2="286.9" y2="381.74" stroke="#000" stroke-width="1.35" />
<line x1="317.59" y1="404" x2="317.59" y2="401.7" stroke="#000" stroke-width="1.35" />
<line x1="284.6" y1="379.83" x2="286.9" y2="379.83" stroke="#000" stroke-width="1.35" />
<line x1="320.43" y1="404" x2="320.43" y2="401.7" stroke="#000" stroke-width="1.35" />
<line x1="284.6" y1="378.17" x2="286.9" y2="378.17" stroke="#000" stroke-width="1.35" />
<line x1="322.89" y1="404" x2="322.89" y2="401.7" stroke="#000" stroke-width="1.35" />
<line x1="284.6" y1="376.71" x2="286.9" y2="376.71" stroke="#000" stroke-width="1.35" />
<line x1="325.06" y1="404" x2="325.06" y2="401.7" stroke="#000" stroke-width="1.35" />
<line x1="284.6" y1="375.4" x2="288.4" y2="375.4" stroke="#000" stroke-width="1.7" />
<line x1="327" y1="404" x2="327" y2="400" stroke="#000" stroke-width="1.7" />
<line x1="284.6" y1="366.79" x2="286.9" y2="366.79" stroke="#000" stroke-width="1.35" />
<line x1="339.76" y1="404" x2="339.76" y2="401.7" stroke="#000" stroke-width="1.35" />
<line x1="284.6" y1="361.75" x2="286.9" y2="361.75" stroke="#000" stroke-width="1.35" />
<line x1="347.23" y1="404" x2="347.23" y2="401.7" stroke="#000" stroke-width="1.35" />
<line x1="284.6" y1="358.18" x2="286.9" y2="358.18" stroke="#000" stroke-width="1.35" />
<line x1="352.53" y1="404" x2="352.53" y2="401.7" stroke="#000" stroke-width="1.35" />
<line x1="284.6" y1="355.41" x2="286.9" y2="355.41" stroke="#000" stroke-width="1.35" />
<line x1="356.64" y1="404" x2="356.64" y2="401.7" stroke="#000" stroke-width="1.35" />
<line x1="284.6" y1="353.14" x2="286.9" y2="353.14" stroke="#000" stroke-width="1.35" />
<line x1="359.99" y1="404" x2="359.99" y2="401.7" stroke="#000" stroke-width="1.35" />
<line x1="284.6" y1="351.23" x2="286.9" y2="351.23" stroke="#000" stroke-width="1.35" />
<line x1="362.83" y1="404" x2="362.83" y2="401.7" stroke="#000" stroke-width="1.35" />
<line x1="284.6" y1="349.57" x2="286.9" y2="349.57" stroke="#000" stroke-width="1.35" />
<line x1="365.29" y1="404" x2="365.29" y2="401.7" stroke="#000" stroke-width="1.35" />
<line x1="284.6" y1="348.11" x2="286.9" y2="348.11" stroke="#000" stroke-width="1.35" />
<line x1="367.46" y1="404" x2="367.46" y2="401.7" stroke="#000" stroke-width="1.35" />
<line x1="284.6" y1="346.8" x2="288.4" y2="346.8" stroke="#000" stroke-width="1.7" />
<line x1="369.4" y1="404" x2="369.4" y2="400" stroke="#000" stroke-width="1.7" />
<line x1="284.6" y1="338.19" x2="286.9" y2="338.19" stroke="#000" stroke-width="1.35" />
<line x1="382.16" y1="404" x2="382.16" y2="401.7" stroke="#000" stroke-width="1.35" />
<line x1="284.6" y1="333.15" x2="286.9" y2="333.15" stroke="#000" stroke-width="1.35" />
<line x1="389.63" y1="404" x2="389.63" y2="401.7" stroke="#000" stroke-width="1.35" />
<line x1="284.6" y1="329.58" x2="286.9" y2="329.58" stroke="#000" stroke-width="1.35" />
<line x1="394.93" y1="404" x2="394.93" y2="401.7" stroke="#000" stroke-width="1.35" />
<line x1="284.6" y1="326.81" x2="286.9" y2="326.81" stroke="#000" stroke-width="1.35" />
<line x1="399.04" y1="404" x2="399.04" y2="401.7" stroke="#000" stroke-width="1.35" />
<line x1="284.6" y1="324.54" x2="286.9" y2="324.54" stroke="#000" stroke-width="1.35" />
<line x1="402.39" y1="404" x2="402.39" y2="401.7" stroke="#000" stroke-width="1.35" />
<line x1="284.6" y1="322.63" x2="286.9" y2="322.63" stroke="#000" stroke-width="1.35" />
<line x1="405.23" y1="404" x2="405.23" y2="401.7" stroke="#000" stroke-width="1.35" />
<line x1="284.6" y1="320.97" x2="286.9" y2="320.97" stroke="#000" stroke-width="1.35" />
<line x1="407.69" y1="404" x2="407.69" y2="401.7" stroke="#000" stroke-width="1.35" />
<line x1="284.6" y1="319.51" x2="286.9" y2="319.51" stroke="#000" stroke-width="1.35" />
<line x1="409.86" y1="404" x2="409.86" y2="401.7" stroke="#000" stroke-width="1.35" />
<line x1="284.6" y1="318.2" x2="288.4" y2="318.2" stroke="#000" stroke-width="1.7" />
<line x1="411.8" y1="404" x2="411.8" y2="400" stroke="#000" stroke-width="1.7" />
<line x1="284.6" y1="309.59" x2="286.9" y2="309.59" stroke="#000" stroke-width="1.35" />
<line x1="424.56" y1="404" x2="424.56" y2="401.7" stroke="#000" stroke-width="1.35" />
<line x1="284.6" y1="304.55" x2="286.9" y2="304.55" stroke="#000" stroke-width="1.35" />
<line x1="432.03" y1="404" x2="432.03" y2="401.7" stroke="#000" stroke-width="1.35" />
<line x1="284.6" y1="300.98" x2="286.9" y2="300.98" stroke="#000" stroke-width="1.35" />
<line x1="437.33" y1="404" x2="437.33" y2="401.7" stroke="#000" stroke-width="1.35" />
<line x1="284.6" y1="298.21" x2="286.9" y2="298.21" stroke="#000" stroke-width="1.35" />
<line x1="441.44" y1="404" x2="441.44" y2="401.7" stroke="#000" stroke-width="1.35" />
<line x1="284.6" y1="295.94" x2="286.9" y2="295.94" stroke="#000" stroke-width="1.35" />
<line x1="444.79" y1="404" x2="444.79" y2="401.7" stroke="#000" stroke-width="1.35" />
<line x1="284.6" y1="294.03" x2="286.9" y2="294.03" stroke="#000" stroke-width="1.35" />
<line x1="447.63" y1="404" x2="447.63" y2="401.7" stroke="#000" stroke-width="1.35" />
<line x1="284.6" y1="292.37" x2="286.9" y2="292.37" stroke="#000" stroke-width="1.35" />
<line x1="450.09" y1="404" x2="450.09" y2="401.7" stroke="#000" stroke-width="1.35" />
<line x1="284.6" y1="290.91" x2="286.9" y2="290.91" stroke="#000" stroke-width="1.35" />
<line x1="452.26" y1="404" x2="452.26" y2="401.7" stroke="#000" stroke-width="1.35" />
<line x1="284.6" y1="289.6" x2="288.4" y2="289.6" stroke="#000" stroke-width="1.7" />
<line x1="454.2" y1="404" x2="454.2" y2="400" stroke="#000" stroke-width="1.7" />
<line x1="284.6" y1="280.99" x2="286.9" y2="280.99" stroke="#000" stroke-width="1.35" />
<line x1="466.96" y1="404" x2="466.96" y2="401.7" stroke="#000" stroke-width="1.35" />
<line x1="284.6" y1="275.95" x2="286.9" y2="275.95" stroke="#000" stroke-width="1.35" />
<line x1="474.43" y1="404" x2="474.43" y2="401.7" stroke="#000" stroke-width="1.35" />
<line x1="284.6" y1="272.38" x2="286.9" y2="272.38" stroke="#000" stroke-width="1.35" />
<line x1="479.73" y1="404" x2="479.73" y2="401.7" stroke="#000" stroke-width="1.35" />
<line x1="284.6" y1="269.61" x2="286.9" y2="269.61" stroke="#000" stroke-width="1.35" />
<line x1="483.84" y1="404" x2="483.84" y2="401.7" stroke="#000" stroke-width="1.35" />
<line x1="284.6" y1="267.34" x2="286.9" y2="267.34" stroke="#000" stroke-width="1.35" />
<line x1="487.19" y1="404" x2="487.19" y2="401.7" stroke="#000" stroke-width="1.35" />
<line x1="284.6" y1="265.43" x2="286.9" y2="265.43" stroke="#000" stroke-width="1.35" />
<line x1="490.03" y1="404" x2="490.03" y2="401.7" stroke="#000" stroke-width="1.35" />
<line x1="284.6" y1="263.77" x2="286.9" y2="263.77" stroke="#000" stroke-width="1.35" />
<line x1="492.49" y1="404" x2="492.49" y2="401.7" stroke="#000" stroke-width="1.35" />
<line x1="284.6" y1="262.31" x2="286.9" y2="262.31" stroke="#000" stroke-width="1.35" />
<line x1="494.66" y1="404" x2="494.66" y2="401.7" stroke="#000" stroke-width="1.35" />
<line x1="284.6" y1="261" x2="288.4" y2="261" stroke="#000" stroke-width="1.7" />
<line x1="496.6" y1="404" x2="496.6" y2="400" stroke="#000" stroke-width="1.7" />
<text x="279.8" y="408.4" font-size="8.2" text-anchor="end" fill="#222">10<tspan font-size="6" dy="-2.7">1</tspan></text>
<text x="279.8" y="379.2" font-size="8.2" text-anchor="end" fill="#222">10<tspan font-size="6" dy="-2.7">2</tspan></text>
<text x="279.8" y="349.4" font-size="8.2" text-anchor="end" fill="#222">10<tspan font-size="6" dy="-2.7">3</tspan></text>
<text x="279.8" y="319.7" font-size="8.2" text-anchor="end" fill="#222">10<tspan font-size="6" dy="-2.7">4</tspan></text>
<text x="279.8" y="290.7" font-size="8.2" text-anchor="end" fill="#222">10<tspan font-size="6" dy="-2.7">5</tspan></text>
<text x="279.8" y="264.9" font-size="8.2" text-anchor="end" fill="#222">10<tspan font-size="6" dy="-2.7">6</tspan></text>
<text x="287.3" y="418.3" font-size="8.2" text-anchor="middle" fill="#222">10<tspan font-size="6" dy="-2.7">1</tspan></text>
<text x="327.5" y="418.3" font-size="8.2" text-anchor="middle" fill="#222">10<tspan font-size="6" dy="-2.7">2</tspan></text>
<text x="368.9" y="418.3" font-size="8.2" text-anchor="middle" fill="#222">10<tspan font-size="6" dy="-2.7">3</tspan></text>
<text x="410.3" y="418.3" font-size="8.2" text-anchor="middle" fill="#222">10<tspan font-size="6" dy="-2.7">4</tspan></text>
<text x="455.4" y="418.3" font-size="8.2" text-anchor="middle" fill="#222">10<tspan font-size="6" dy="-2.7">5</tspan></text>
<text x="495.8" y="418.3" font-size="8.2" text-anchor="middle" fill="#222">10<tspan font-size="6" dy="-2.7">6</tspan></text>
<text x="259.7" y="328.8" font-size="8.4" text-anchor="middle" fill="#222" transform="rotate(-90 259.7 328.8)" >Determined number of copies</text>
<text x="393.6" y="427.6" font-size="8.3" text-anchor="middle" fill="#222" >Theoretical number of copies</text>
<line x1="312" y1="393.5" x2="481.2" y2="268.5" stroke="#f5193f" stroke-width="2.2"/>
<line x1="312" y1="391.8" x2="481.2" y2="266.6" stroke="#0a0af5" stroke-width="2.4"/>
<rect x="309.2" y="396.6" width="5.6" height="5.6" fill="#f5193f"/>
<circle cx="312" cy="398.9" r="2.8" fill="#0a0af5"/>
<rect x="351.2" y="360.7" width="5.6" height="5.6" fill="#f5193f"/>
<circle cx="354" cy="363" r="2.8" fill="#0a0af5"/>
<rect x="393.7" y="326" width="5.6" height="5.6" fill="#f5193f"/>
<circle cx="396.5" cy="328.3" r="2.8" fill="#0a0af5"/>
<rect x="435.9" y="295.4" width="5.6" height="5.6" fill="#f5193f"/>
<circle cx="438.7" cy="297.7" r="2.8" fill="#0a0af5"/>
<rect x="478.4" y="264" width="5.6" height="5.6" fill="#f5193f"/>
<circle cx="481.2" cy="266.3" r="2.8" fill="#0a0af5"/>
<circle cx="492.5" cy="314.1" r="4.2" fill="#0000f5"/>
<rect x="488.3" y="326.2" width="8.4" height="8.4" rx="1" fill="#ee1450"/>
<text x="500.5" y="317.2" font-size="8.3" text-anchor="start" fill="#222" >AccuCal-D/501bp</text>
<text x="500.5" y="333.4" font-size="8.3" text-anchor="start" fill="#222" >AccuCal-P/501bp</text>
<text x="-0.5" y="464.7" font-size="14" text-anchor="start" fill="#000" font-weight="bold">c</text>
<rect x="48.6" y="571" width="3.21" height="39" fill="#b9443f"/>
<rect x="51.76" y="552.6" width="3.21" height="57.4" fill="#8fac4a"/>
<rect x="54.92" y="536.6" width="3.21" height="73.4" fill="#7856a0"/>
<rect x="58.08" y="514.6" width="3.21" height="95.4" fill="#319fbb"/>
<rect x="61.24" y="495.2" width="3.21" height="114.8" fill="#e8842f"/>
<rect x="71.9" y="565.6" width="3.21" height="44.4" fill="#b9443f"/>
<rect x="75.06" y="554.7" width="3.21" height="55.3" fill="#8fac4a"/>
<rect x="78.22" y="534.2" width="3.21" height="75.8" fill="#7856a0"/>
<rect x="81.38" y="511.6" width="3.21" height="98.4" fill="#319fbb"/>
<rect x="84.54" y="487.1" width="3.21" height="122.9" fill="#e8842f"/>
<rect x="95.2" y="577.8" width="3.21" height="32.2" fill="#b9443f"/>
<rect x="98.36" y="556.1" width="3.21" height="53.9" fill="#8fac4a"/>
<rect x="101.52" y="533.1" width="3.21" height="76.9" fill="#7856a0"/>
<rect x="104.68" y="516.5" width="3.21" height="93.5" fill="#319fbb"/>
<rect x="107.84" y="494.3" width="3.21" height="115.7" fill="#e8842f"/>
<rect x="118.5" y="571" width="3.21" height="39" fill="#b9443f"/>
<rect x="121.66" y="559.3" width="3.21" height="50.7" fill="#8fac4a"/>
<rect x="124.82" y="536.4" width="3.21" height="73.6" fill="#7856a0"/>
<rect x="127.98" y="518.4" width="3.21" height="91.6" fill="#319fbb"/>
<rect x="131.14" y="494.9" width="3.21" height="115.1" fill="#e8842f"/>
<rect x="141.8" y="576.9" width="3.21" height="33.1" fill="#b9443f"/>
<rect x="144.96" y="557.6" width="3.21" height="52.4" fill="#8fac4a"/>
<rect x="148.12" y="532.1" width="3.21" height="77.9" fill="#7856a0"/>
<rect x="151.28" y="513.4" width="3.21" height="96.6" fill="#319fbb"/>
<rect x="154.44" y="489.7" width="3.21" height="120.3" fill="#e8842f"/>
<rect x="165.1" y="578.8" width="3.21" height="31.2" fill="#b9443f"/>
<rect x="171.42" y="536.6" width="3.21" height="73.4" fill="#7856a0"/>
<rect x="177.74" y="499.9" width="3.21" height="110.1" fill="#e8842f"/>
<rect x="188.4" y="580.3" width="3.21" height="29.7" fill="#b9443f"/>
<rect x="191.56" y="554.5" width="3.21" height="55.5" fill="#8fac4a"/>
<rect x="194.72" y="534" width="3.21" height="76" fill="#7856a0"/>
<rect x="197.88" y="513.2" width="3.21" height="96.8" fill="#319fbb"/>
<rect x="201.04" y="490.9" width="3.21" height="119.1" fill="#e8842f"/>
<rect x="211.7" y="583.6" width="3.21" height="26.4" fill="#b9443f"/>
<rect x="214.86" y="567" width="3.21" height="43" fill="#8fac4a"/>
<rect x="218.02" y="540.6" width="3.21" height="69.4" fill="#7856a0"/>
<rect x="221.18" y="522.5" width="3.21" height="87.5" fill="#319fbb"/>
<rect x="224.34" y="494.6" width="3.21" height="115.4" fill="#e8842f"/>
<line x1="50.18" y1="569.8" x2="50.18" y2="572.2" stroke="#000" stroke-width="1.3" />
<line x1="46.83" y1="569.8" x2="53.53" y2="569.8" stroke="#000" stroke-width="2.1" />
<line x1="46.83" y1="572.2" x2="53.53" y2="572.2" stroke="#000" stroke-width="2.1" />
<line x1="53.34" y1="551" x2="53.34" y2="554.2" stroke="#000" stroke-width="1.3" />
<line x1="49.99" y1="551" x2="56.69" y2="551" stroke="#000" stroke-width="2.1" />
<line x1="49.99" y1="554.2" x2="56.69" y2="554.2" stroke="#000" stroke-width="2.1" />
<line x1="56.5" y1="535.4" x2="56.5" y2="537.8" stroke="#000" stroke-width="1.3" />
<line x1="53.15" y1="535.4" x2="59.85" y2="535.4" stroke="#000" stroke-width="2.1" />
<line x1="53.15" y1="537.8" x2="59.85" y2="537.8" stroke="#000" stroke-width="2.1" />
<line x1="59.66" y1="513.4" x2="59.66" y2="515.8" stroke="#000" stroke-width="1.3" />
<line x1="56.31" y1="513.4" x2="63.01" y2="513.4" stroke="#000" stroke-width="2.1" />
<line x1="56.31" y1="515.8" x2="63.01" y2="515.8" stroke="#000" stroke-width="2.1" />
<line x1="62.82" y1="493.4" x2="62.82" y2="497" stroke="#000" stroke-width="1.3" />
<line x1="59.47" y1="493.4" x2="66.17" y2="493.4" stroke="#000" stroke-width="2.1" />
<line x1="59.47" y1="497" x2="66.17" y2="497" stroke="#000" stroke-width="2.1" />
<line x1="73.48" y1="563.8" x2="73.48" y2="567.4" stroke="#000" stroke-width="1.3" />
<line x1="70.13" y1="563.8" x2="76.83" y2="563.8" stroke="#000" stroke-width="2.1" />
<line x1="70.13" y1="567.4" x2="76.83" y2="567.4" stroke="#000" stroke-width="2.1" />
<line x1="76.64" y1="553.2" x2="76.64" y2="556.2" stroke="#000" stroke-width="1.3" />
<line x1="73.29" y1="553.2" x2="79.99" y2="553.2" stroke="#000" stroke-width="2.1" />
<line x1="73.29" y1="556.2" x2="79.99" y2="556.2" stroke="#000" stroke-width="2.1" />
<line x1="79.8" y1="532.4" x2="79.8" y2="536" stroke="#000" stroke-width="1.3" />
<line x1="76.45" y1="532.4" x2="83.15" y2="532.4" stroke="#000" stroke-width="2.1" />
<line x1="76.45" y1="536" x2="83.15" y2="536" stroke="#000" stroke-width="2.1" />
<line x1="82.96" y1="509.8" x2="82.96" y2="513.4" stroke="#000" stroke-width="1.3" />
<line x1="79.61" y1="509.8" x2="86.31" y2="509.8" stroke="#000" stroke-width="2.1" />
<line x1="79.61" y1="513.4" x2="86.31" y2="513.4" stroke="#000" stroke-width="2.1" />
<line x1="86.12" y1="485.3" x2="86.12" y2="488.9" stroke="#000" stroke-width="1.3" />
<line x1="82.77" y1="485.3" x2="89.47" y2="485.3" stroke="#000" stroke-width="2.1" />
<line x1="82.77" y1="488.9" x2="89.47" y2="488.9" stroke="#000" stroke-width="2.1" />
<line x1="96.78" y1="576.2" x2="96.78" y2="579.4" stroke="#000" stroke-width="1.3" />
<line x1="93.43" y1="576.2" x2="100.13" y2="576.2" stroke="#000" stroke-width="2.1" />
<line x1="93.43" y1="579.4" x2="100.13" y2="579.4" stroke="#000" stroke-width="2.1" />
<line x1="99.94" y1="554.6" x2="99.94" y2="557.6" stroke="#000" stroke-width="1.3" />
<line x1="96.59" y1="554.6" x2="103.29" y2="554.6" stroke="#000" stroke-width="2.1" />
<line x1="96.59" y1="557.6" x2="103.29" y2="557.6" stroke="#000" stroke-width="2.1" />
<line x1="103.1" y1="531.6" x2="103.1" y2="534.6" stroke="#000" stroke-width="1.3" />
<line x1="99.75" y1="531.6" x2="106.45" y2="531.6" stroke="#000" stroke-width="2.1" />
<line x1="99.75" y1="534.6" x2="106.45" y2="534.6" stroke="#000" stroke-width="2.1" />
<line x1="106.26" y1="514.5" x2="106.26" y2="518.5" stroke="#000" stroke-width="1.3" />
<line x1="102.91" y1="514.5" x2="109.61" y2="514.5" stroke="#000" stroke-width="2.1" />
<line x1="102.91" y1="518.5" x2="109.61" y2="518.5" stroke="#000" stroke-width="2.1" />
<line x1="109.42" y1="492.7" x2="109.42" y2="495.9" stroke="#000" stroke-width="1.3" />
<line x1="106.07" y1="492.7" x2="112.77" y2="492.7" stroke="#000" stroke-width="2.1" />
<line x1="106.07" y1="495.9" x2="112.77" y2="495.9" stroke="#000" stroke-width="2.1" />
<line x1="120.08" y1="570" x2="120.08" y2="572" stroke="#000" stroke-width="1.3" />
<line x1="116.73" y1="570" x2="123.43" y2="570" stroke="#000" stroke-width="2.1" />
<line x1="116.73" y1="572" x2="123.43" y2="572" stroke="#000" stroke-width="2.1" />
<line x1="123.24" y1="557.1" x2="123.24" y2="561.5" stroke="#000" stroke-width="1.3" />
<line x1="119.89" y1="557.1" x2="126.59" y2="557.1" stroke="#000" stroke-width="2.1" />
<line x1="119.89" y1="561.5" x2="126.59" y2="561.5" stroke="#000" stroke-width="2.1" />
<line x1="126.4" y1="535" x2="126.4" y2="537.8" stroke="#000" stroke-width="1.3" />
<line x1="123.05" y1="535" x2="129.75" y2="535" stroke="#000" stroke-width="2.1" />
<line x1="123.05" y1="537.8" x2="129.75" y2="537.8" stroke="#000" stroke-width="2.1" />
<line x1="129.56" y1="516.4" x2="129.56" y2="520.4" stroke="#000" stroke-width="1.3" />
<line x1="126.21" y1="516.4" x2="132.91" y2="516.4" stroke="#000" stroke-width="2.1" />
<line x1="126.21" y1="520.4" x2="132.91" y2="520.4" stroke="#000" stroke-width="2.1" />
<line x1="132.72" y1="493.1" x2="132.72" y2="496.7" stroke="#000" stroke-width="1.3" />
<line x1="129.37" y1="493.1" x2="136.07" y2="493.1" stroke="#000" stroke-width="2.1" />
<line x1="129.37" y1="496.7" x2="136.07" y2="496.7" stroke="#000" stroke-width="2.1" />
<line x1="143.38" y1="575.5" x2="143.38" y2="578.3" stroke="#000" stroke-width="1.3" />
<line x1="140.03" y1="575.5" x2="146.73" y2="575.5" stroke="#000" stroke-width="2.1" />
<line x1="140.03" y1="578.3" x2="146.73" y2="578.3" stroke="#000" stroke-width="2.1" />
<line x1="146.54" y1="556.2" x2="146.54" y2="559" stroke="#000" stroke-width="1.3" />
<line x1="143.19" y1="556.2" x2="149.89" y2="556.2" stroke="#000" stroke-width="2.1" />
<line x1="143.19" y1="559" x2="149.89" y2="559" stroke="#000" stroke-width="2.1" />
<line x1="149.7" y1="530.3" x2="149.7" y2="533.9" stroke="#000" stroke-width="1.3" />
<line x1="146.35" y1="530.3" x2="153.05" y2="530.3" stroke="#000" stroke-width="2.1" />
<line x1="146.35" y1="533.9" x2="153.05" y2="533.9" stroke="#000" stroke-width="2.1" />
<line x1="152.86" y1="511.4" x2="152.86" y2="515.4" stroke="#000" stroke-width="1.3" />
<line x1="149.51" y1="511.4" x2="156.21" y2="511.4" stroke="#000" stroke-width="2.1" />
<line x1="149.51" y1="515.4" x2="156.21" y2="515.4" stroke="#000" stroke-width="2.1" />
<line x1="156.02" y1="487.9" x2="156.02" y2="491.5" stroke="#000" stroke-width="1.3" />
<line x1="152.67" y1="487.9" x2="159.37" y2="487.9" stroke="#000" stroke-width="2.1" />
<line x1="152.67" y1="491.5" x2="159.37" y2="491.5" stroke="#000" stroke-width="2.1" />
<line x1="166.68" y1="577.4" x2="166.68" y2="580.2" stroke="#000" stroke-width="1.3" />
<line x1="163.33" y1="577.4" x2="170.03" y2="577.4" stroke="#000" stroke-width="2.1" />
<line x1="163.33" y1="580.2" x2="170.03" y2="580.2" stroke="#000" stroke-width="2.1" />
<line x1="173" y1="534.8" x2="173" y2="538.4" stroke="#000" stroke-width="1.3" />
<line x1="169.65" y1="534.8" x2="176.35" y2="534.8" stroke="#000" stroke-width="2.1" />
<line x1="169.65" y1="538.4" x2="176.35" y2="538.4" stroke="#000" stroke-width="2.1" />
<line x1="179.32" y1="498.1" x2="179.32" y2="501.7" stroke="#000" stroke-width="1.3" />
<line x1="175.97" y1="498.1" x2="182.67" y2="498.1" stroke="#000" stroke-width="2.1" />
<line x1="175.97" y1="501.7" x2="182.67" y2="501.7" stroke="#000" stroke-width="2.1" />
<line x1="189.98" y1="578.7" x2="189.98" y2="581.9" stroke="#000" stroke-width="1.3" />
<line x1="186.63" y1="578.7" x2="193.33" y2="578.7" stroke="#000" stroke-width="2.1" />
<line x1="186.63" y1="581.9" x2="193.33" y2="581.9" stroke="#000" stroke-width="2.1" />
<line x1="193.14" y1="553.1" x2="193.14" y2="555.9" stroke="#000" stroke-width="1.3" />
<line x1="189.79" y1="553.1" x2="196.49" y2="553.1" stroke="#000" stroke-width="2.1" />
<line x1="189.79" y1="555.9" x2="196.49" y2="555.9" stroke="#000" stroke-width="2.1" />
<line x1="196.3" y1="532.6" x2="196.3" y2="535.4" stroke="#000" stroke-width="1.3" />
<line x1="192.95" y1="532.6" x2="199.65" y2="532.6" stroke="#000" stroke-width="2.1" />
<line x1="192.95" y1="535.4" x2="199.65" y2="535.4" stroke="#000" stroke-width="2.1" />
<line x1="199.46" y1="511.4" x2="199.46" y2="515" stroke="#000" stroke-width="1.3" />
<line x1="196.11" y1="511.4" x2="202.81" y2="511.4" stroke="#000" stroke-width="2.1" />
<line x1="196.11" y1="515" x2="202.81" y2="515" stroke="#000" stroke-width="2.1" />
<line x1="202.62" y1="488.9" x2="202.62" y2="492.9" stroke="#000" stroke-width="1.3" />
<line x1="199.27" y1="488.9" x2="205.97" y2="488.9" stroke="#000" stroke-width="2.1" />
<line x1="199.27" y1="492.9" x2="205.97" y2="492.9" stroke="#000" stroke-width="2.1" />
<line x1="213.28" y1="580.8" x2="213.28" y2="586.4" stroke="#000" stroke-width="1.3" />
<line x1="209.93" y1="580.8" x2="216.63" y2="580.8" stroke="#000" stroke-width="2.1" />
<line x1="209.93" y1="586.4" x2="216.63" y2="586.4" stroke="#000" stroke-width="2.1" />
<line x1="216.44" y1="563.7" x2="216.44" y2="570.3" stroke="#000" stroke-width="1.3" />
<line x1="213.09" y1="563.7" x2="219.79" y2="563.7" stroke="#000" stroke-width="2.1" />
<line x1="213.09" y1="570.3" x2="219.79" y2="570.3" stroke="#000" stroke-width="2.1" />
<line x1="219.6" y1="538.1" x2="219.6" y2="543.1" stroke="#000" stroke-width="1.3" />
<line x1="216.25" y1="538.1" x2="222.95" y2="538.1" stroke="#000" stroke-width="2.1" />
<line x1="216.25" y1="543.1" x2="222.95" y2="543.1" stroke="#000" stroke-width="2.1" />
<line x1="222.76" y1="520" x2="222.76" y2="525" stroke="#000" stroke-width="1.3" />
<line x1="219.41" y1="520" x2="226.11" y2="520" stroke="#000" stroke-width="2.1" />
<line x1="219.41" y1="525" x2="226.11" y2="525" stroke="#000" stroke-width="2.1" />
<line x1="225.92" y1="491.9" x2="225.92" y2="497.3" stroke="#000" stroke-width="1.3" />
<line x1="222.57" y1="491.9" x2="229.27" y2="491.9" stroke="#000" stroke-width="2.1" />
<line x1="222.57" y1="497.3" x2="229.27" y2="497.3" stroke="#000" stroke-width="2.1" />
<line x1="43.2" y1="468.9" x2="43.2" y2="610" stroke="#868686" stroke-width="1.3" />
<line x1="40.9" y1="610" x2="45.5" y2="610" stroke="#808080" stroke-width="1.2" />
<line x1="40.9" y1="603.93" x2="45.5" y2="603.93" stroke="#808080" stroke-width="1.2" />
<line x1="40.9" y1="600.38" x2="45.5" y2="600.38" stroke="#808080" stroke-width="1.2" />
<line x1="40.9" y1="597.86" x2="45.5" y2="597.86" stroke="#808080" stroke-width="1.2" />
<line x1="40.9" y1="595.91" x2="45.5" y2="595.91" stroke="#808080" stroke-width="1.2" />
<line x1="40.9" y1="594.31" x2="45.5" y2="594.31" stroke="#808080" stroke-width="1.2" />
<line x1="40.9" y1="592.96" x2="45.5" y2="592.96" stroke="#808080" stroke-width="1.2" />
<line x1="40.9" y1="591.79" x2="45.5" y2="591.79" stroke="#808080" stroke-width="1.2" />
<line x1="40.9" y1="590.76" x2="45.5" y2="590.76" stroke="#808080" stroke-width="1.2" />
<line x1="40.9" y1="589.84" x2="45.5" y2="589.84" stroke="#808080" stroke-width="1.2" />
<line x1="40.9" y1="583.77" x2="45.5" y2="583.77" stroke="#808080" stroke-width="1.2" />
<line x1="40.9" y1="580.22" x2="45.5" y2="580.22" stroke="#808080" stroke-width="1.2" />
<line x1="40.9" y1="577.7" x2="45.5" y2="577.7" stroke="#808080" stroke-width="1.2" />
<line x1="40.9" y1="575.75" x2="45.5" y2="575.75" stroke="#808080" stroke-width="1.2" />
<line x1="40.9" y1="574.15" x2="45.5" y2="574.15" stroke="#808080" stroke-width="1.2" />
<line x1="40.9" y1="572.8" x2="45.5" y2="572.8" stroke="#808080" stroke-width="1.2" />
<line x1="40.9" y1="571.63" x2="45.5" y2="571.63" stroke="#808080" stroke-width="1.2" />
<line x1="40.9" y1="570.6" x2="45.5" y2="570.6" stroke="#808080" stroke-width="1.2" />
<line x1="40.9" y1="569.68" x2="45.5" y2="569.68" stroke="#808080" stroke-width="1.2" />
<line x1="40.9" y1="563.61" x2="45.5" y2="563.61" stroke="#808080" stroke-width="1.2" />
<line x1="40.9" y1="560.06" x2="45.5" y2="560.06" stroke="#808080" stroke-width="1.2" />
<line x1="40.9" y1="557.54" x2="45.5" y2="557.54" stroke="#808080" stroke-width="1.2" />
<line x1="40.9" y1="555.59" x2="45.5" y2="555.59" stroke="#808080" stroke-width="1.2" />
<line x1="40.9" y1="553.99" x2="45.5" y2="553.99" stroke="#808080" stroke-width="1.2" />
<line x1="40.9" y1="552.64" x2="45.5" y2="552.64" stroke="#808080" stroke-width="1.2" />
<line x1="40.9" y1="551.47" x2="45.5" y2="551.47" stroke="#808080" stroke-width="1.2" />
<line x1="40.9" y1="550.44" x2="45.5" y2="550.44" stroke="#808080" stroke-width="1.2" />
<line x1="40.9" y1="549.52" x2="45.5" y2="549.52" stroke="#808080" stroke-width="1.2" />
<line x1="40.9" y1="543.45" x2="45.5" y2="543.45" stroke="#808080" stroke-width="1.2" />
<line x1="40.9" y1="539.9" x2="45.5" y2="539.9" stroke="#808080" stroke-width="1.2" />
<line x1="40.9" y1="537.38" x2="45.5" y2="537.38" stroke="#808080" stroke-width="1.2" />
<line x1="40.9" y1="535.43" x2="45.5" y2="535.43" stroke="#808080" stroke-width="1.2" />
<line x1="40.9" y1="533.83" x2="45.5" y2="533.83" stroke="#808080" stroke-width="1.2" />
<line x1="40.9" y1="532.48" x2="45.5" y2="532.48" stroke="#808080" stroke-width="1.2" />
<line x1="40.9" y1="531.31" x2="45.5" y2="531.31" stroke="#808080" stroke-width="1.2" />
<line x1="40.9" y1="530.28" x2="45.5" y2="530.28" stroke="#808080" stroke-width="1.2" />
<line x1="40.9" y1="529.36" x2="45.5" y2="529.36" stroke="#808080" stroke-width="1.2" />
<line x1="40.9" y1="523.29" x2="45.5" y2="523.29" stroke="#808080" stroke-width="1.2" />
<line x1="40.9" y1="519.74" x2="45.5" y2="519.74" stroke="#808080" stroke-width="1.2" />
<line x1="40.9" y1="517.22" x2="45.5" y2="517.22" stroke="#808080" stroke-width="1.2" />
<line x1="40.9" y1="515.27" x2="45.5" y2="515.27" stroke="#808080" stroke-width="1.2" />
<line x1="40.9" y1="513.67" x2="45.5" y2="513.67" stroke="#808080" stroke-width="1.2" />
<line x1="40.9" y1="512.32" x2="45.5" y2="512.32" stroke="#808080" stroke-width="1.2" />
<line x1="40.9" y1="511.15" x2="45.5" y2="511.15" stroke="#808080" stroke-width="1.2" />
<line x1="40.9" y1="510.12" x2="45.5" y2="510.12" stroke="#808080" stroke-width="1.2" />
<line x1="40.9" y1="509.2" x2="45.5" y2="509.2" stroke="#808080" stroke-width="1.2" />
<line x1="40.9" y1="503.13" x2="45.5" y2="503.13" stroke="#808080" stroke-width="1.2" />
<line x1="40.9" y1="499.58" x2="45.5" y2="499.58" stroke="#808080" stroke-width="1.2" />
<line x1="40.9" y1="497.06" x2="45.5" y2="497.06" stroke="#808080" stroke-width="1.2" />
<line x1="40.9" y1="495.11" x2="45.5" y2="495.11" stroke="#808080" stroke-width="1.2" />
<line x1="40.9" y1="493.51" x2="45.5" y2="493.51" stroke="#808080" stroke-width="1.2" />
<line x1="40.9" y1="492.16" x2="45.5" y2="492.16" stroke="#808080" stroke-width="1.2" />
<line x1="40.9" y1="490.99" x2="45.5" y2="490.99" stroke="#808080" stroke-width="1.2" />
<line x1="40.9" y1="489.96" x2="45.5" y2="489.96" stroke="#808080" stroke-width="1.2" />
<line x1="40.9" y1="489.04" x2="45.5" y2="489.04" stroke="#808080" stroke-width="1.2" />
<line x1="40.9" y1="482.97" x2="45.5" y2="482.97" stroke="#808080" stroke-width="1.2" />
<line x1="40.9" y1="479.42" x2="45.5" y2="479.42" stroke="#808080" stroke-width="1.2" />
<line x1="40.9" y1="476.9" x2="45.5" y2="476.9" stroke="#808080" stroke-width="1.2" />
<line x1="40.9" y1="474.95" x2="45.5" y2="474.95" stroke="#808080" stroke-width="1.2" />
<line x1="40.9" y1="473.35" x2="45.5" y2="473.35" stroke="#808080" stroke-width="1.2" />
<line x1="40.9" y1="472" x2="45.5" y2="472" stroke="#808080" stroke-width="1.2" />
<line x1="40.9" y1="470.83" x2="45.5" y2="470.83" stroke="#808080" stroke-width="1.2" />
<line x1="40.9" y1="469.8" x2="45.5" y2="469.8" stroke="#808080" stroke-width="1.2" />
<line x1="40.9" y1="468.88" x2="45.5" y2="468.88" stroke="#808080" stroke-width="1.2" />
<text x="33.8" y="612.3" font-size="8.4" text-anchor="end" fill="#111">10<tspan font-size="5.8" dy="-2.8">0</tspan></text>
<text x="33.8" y="592.67" font-size="8.4" text-anchor="end" fill="#111">10<tspan font-size="5.8" dy="-2.8">1</tspan></text>
<text x="33.8" y="573.04" font-size="8.4" text-anchor="end" fill="#111">10<tspan font-size="5.8" dy="-2.8">2</tspan></text>
<text x="33.8" y="553.41" font-size="8.4" text-anchor="end" fill="#111">10<tspan font-size="5.8" dy="-2.8">3</tspan></text>
<text x="33.8" y="533.78" font-size="8.4" text-anchor="end" fill="#111">10<tspan font-size="5.8" dy="-2.8">4</tspan></text>
<text x="33.8" y="514.15" font-size="8.4" text-anchor="end" fill="#111">10<tspan font-size="5.8" dy="-2.8">5</tspan></text>
<text x="33.8" y="494.52" font-size="8.4" text-anchor="end" fill="#111">10<tspan font-size="5.8" dy="-2.8">6</tspan></text>
<text x="33.8" y="474.89" font-size="8.4" text-anchor="end" fill="#111">10<tspan font-size="5.8" dy="-2.8">7</tspan></text>
<line x1="43.2" y1="610.45" x2="229.6" y2="610.45" stroke="#868686" stroke-width="1.2" />
<line x1="43.2" y1="610" x2="43.2" y2="613" stroke="#868686" stroke-width="1.2" />
<line x1="66.5" y1="610" x2="66.5" y2="613" stroke="#868686" stroke-width="1.2" />
<line x1="89.8" y1="610" x2="89.8" y2="613" stroke="#868686" stroke-width="1.2" />
<line x1="113.1" y1="610" x2="113.1" y2="613" stroke="#868686" stroke-width="1.2" />
<line x1="136.4" y1="610" x2="136.4" y2="613" stroke="#868686" stroke-width="1.2" />
<line x1="159.7" y1="610" x2="159.7" y2="613" stroke="#868686" stroke-width="1.2" />
<line x1="183" y1="610" x2="183" y2="613" stroke="#868686" stroke-width="1.2" />
<line x1="206.3" y1="610" x2="206.3" y2="613" stroke="#868686" stroke-width="1.2" />
<line x1="229.6" y1="610" x2="229.6" y2="613" stroke="#868686" stroke-width="1.2" />
<text x="57.45" y="616" font-size="8.5" text-anchor="end" fill="#000" transform="rotate(-90 57.45 616)" stroke="#000" stroke-width="0.25">7900HT</text>
<text x="80.75" y="616" font-size="8.5" text-anchor="end" fill="#000" transform="rotate(-90 80.75 616)" stroke="#000" stroke-width="0.25">MasterCycler</text>
<text x="104.05" y="616" font-size="8.5" text-anchor="end" fill="#000" transform="rotate(-90 104.05 616)" stroke="#000" stroke-width="0.25">qTower</text>
<text x="127.35" y="616" font-size="8.5" text-anchor="end" fill="#000" transform="rotate(-90 127.35 616)" stroke="#000" stroke-width="0.25">VIIA7 #1</text>
<text x="150.65" y="616" font-size="8.5" text-anchor="end" fill="#000" transform="rotate(-90 150.65 616)" stroke="#000" stroke-width="0.25">VIIA7 #2</text>
<text x="173.95" y="616" font-size="8.5" text-anchor="end" fill="#000" transform="rotate(-90 173.95 616)" stroke="#000" stroke-width="0.25">Eco</text>
<text x="197.25" y="616" font-size="8.5" text-anchor="end" fill="#000" transform="rotate(-90 197.25 616)" stroke="#000" stroke-width="0.25">CFX96</text>
<text x="220.55" y="616" font-size="8.5" text-anchor="end" fill="#000" transform="rotate(-90 220.55 616)" stroke="#000" stroke-width="0.25">RotorGene-6000</text>
<text x="6.8" y="538.9" font-size="8.2" text-anchor="middle" fill="#111" transform="rotate(-90 6.8 538.9)" >Determined amount of input</text>
<text x="15.6" y="536.6" font-size="8.2" text-anchor="middle" fill="#111" transform="rotate(-90 15.6 536.6)" >nucleic acid (copies/PCR)</text>
<line x1="286" y1="471.7" x2="286" y2="612.9" stroke="#000" stroke-width="2" />
<line x1="285.1" y1="612" x2="500.1" y2="612" stroke="#000" stroke-width="2" />
<line x1="282.6" y1="612" x2="286" y2="612" stroke="#000" stroke-width="1.7" />
<line x1="284" y1="604.99" x2="286" y2="604.99" stroke="#000" stroke-width="1.35" />
<line x1="284" y1="600.88" x2="286" y2="600.88" stroke="#000" stroke-width="1.35" />
<line x1="284" y1="597.97" x2="286" y2="597.97" stroke="#000" stroke-width="1.35" />
<line x1="284" y1="595.71" x2="286" y2="595.71" stroke="#000" stroke-width="1.35" />
<line x1="284" y1="593.87" x2="286" y2="593.87" stroke="#000" stroke-width="1.35" />
<line x1="284" y1="592.31" x2="286" y2="592.31" stroke="#000" stroke-width="1.35" />
<line x1="284" y1="590.96" x2="286" y2="590.96" stroke="#000" stroke-width="1.35" />
<line x1="284" y1="589.77" x2="286" y2="589.77" stroke="#000" stroke-width="1.35" />
<line x1="282.6" y1="588.7" x2="286" y2="588.7" stroke="#000" stroke-width="1.7" />
<line x1="284" y1="581.69" x2="286" y2="581.69" stroke="#000" stroke-width="1.35" />
<line x1="284" y1="577.58" x2="286" y2="577.58" stroke="#000" stroke-width="1.35" />
<line x1="284" y1="574.67" x2="286" y2="574.67" stroke="#000" stroke-width="1.35" />
<line x1="284" y1="572.41" x2="286" y2="572.41" stroke="#000" stroke-width="1.35" />
<line x1="284" y1="570.57" x2="286" y2="570.57" stroke="#000" stroke-width="1.35" />
<line x1="284" y1="569.01" x2="286" y2="569.01" stroke="#000" stroke-width="1.35" />
<line x1="284" y1="567.66" x2="286" y2="567.66" stroke="#000" stroke-width="1.35" />
<line x1="284" y1="566.47" x2="286" y2="566.47" stroke="#000" stroke-width="1.35" />
<line x1="282.6" y1="565.4" x2="286" y2="565.4" stroke="#000" stroke-width="1.7" />
<line x1="284" y1="558.39" x2="286" y2="558.39" stroke="#000" stroke-width="1.35" />
<line x1="284" y1="554.28" x2="286" y2="554.28" stroke="#000" stroke-width="1.35" />
<line x1="284" y1="551.37" x2="286" y2="551.37" stroke="#000" stroke-width="1.35" />
<line x1="284" y1="549.11" x2="286" y2="549.11" stroke="#000" stroke-width="1.35" />
<line x1="284" y1="547.27" x2="286" y2="547.27" stroke="#000" stroke-width="1.35" />
<line x1="284" y1="545.71" x2="286" y2="545.71" stroke="#000" stroke-width="1.35" />
<line x1="284" y1="544.36" x2="286" y2="544.36" stroke="#000" stroke-width="1.35" />
<line x1="284" y1="543.17" x2="286" y2="543.17" stroke="#000" stroke-width="1.35" />
<line x1="282.6" y1="542.1" x2="286" y2="542.1" stroke="#000" stroke-width="1.7" />
<line x1="284" y1="535.09" x2="286" y2="535.09" stroke="#000" stroke-width="1.35" />
<line x1="284" y1="530.98" x2="286" y2="530.98" stroke="#000" stroke-width="1.35" />
<line x1="284" y1="528.07" x2="286" y2="528.07" stroke="#000" stroke-width="1.35" />
<line x1="284" y1="525.81" x2="286" y2="525.81" stroke="#000" stroke-width="1.35" />
<line x1="284" y1="523.97" x2="286" y2="523.97" stroke="#000" stroke-width="1.35" />
<line x1="284" y1="522.41" x2="286" y2="522.41" stroke="#000" stroke-width="1.35" />
<line x1="284" y1="521.06" x2="286" y2="521.06" stroke="#000" stroke-width="1.35" />
<line x1="284" y1="519.87" x2="286" y2="519.87" stroke="#000" stroke-width="1.35" />
<line x1="282.6" y1="518.8" x2="286" y2="518.8" stroke="#000" stroke-width="1.7" />
<line x1="284" y1="511.79" x2="286" y2="511.79" stroke="#000" stroke-width="1.35" />
<line x1="284" y1="507.68" x2="286" y2="507.68" stroke="#000" stroke-width="1.35" />
<line x1="284" y1="504.77" x2="286" y2="504.77" stroke="#000" stroke-width="1.35" />
<line x1="284" y1="502.51" x2="286" y2="502.51" stroke="#000" stroke-width="1.35" />
<line x1="284" y1="500.67" x2="286" y2="500.67" stroke="#000" stroke-width="1.35" />
<line x1="284" y1="499.11" x2="286" y2="499.11" stroke="#000" stroke-width="1.35" />
<line x1="284" y1="497.76" x2="286" y2="497.76" stroke="#000" stroke-width="1.35" />
<line x1="284" y1="496.57" x2="286" y2="496.57" stroke="#000" stroke-width="1.35" />
<line x1="282.6" y1="495.5" x2="286" y2="495.5" stroke="#000" stroke-width="1.7" />
<line x1="284" y1="488.49" x2="286" y2="488.49" stroke="#000" stroke-width="1.35" />
<line x1="284" y1="484.38" x2="286" y2="484.38" stroke="#000" stroke-width="1.35" />
<line x1="284" y1="481.47" x2="286" y2="481.47" stroke="#000" stroke-width="1.35" />
<line x1="284" y1="479.21" x2="286" y2="479.21" stroke="#000" stroke-width="1.35" />
<line x1="284" y1="477.37" x2="286" y2="477.37" stroke="#000" stroke-width="1.35" />
<line x1="284" y1="475.81" x2="286" y2="475.81" stroke="#000" stroke-width="1.35" />
<line x1="284" y1="474.46" x2="286" y2="474.46" stroke="#000" stroke-width="1.35" />
<line x1="284" y1="473.27" x2="286" y2="473.27" stroke="#000" stroke-width="1.35" />
<line x1="282.6" y1="472.2" x2="286" y2="472.2" stroke="#000" stroke-width="1.7" />
<line x1="286" y1="612" x2="286" y2="616" stroke="#000" stroke-width="1.7" />
<line x1="298.86" y1="612" x2="298.86" y2="614.2" stroke="#000" stroke-width="1.35" />
<line x1="306.38" y1="612" x2="306.38" y2="614.2" stroke="#000" stroke-width="1.35" />
<line x1="311.72" y1="612" x2="311.72" y2="614.2" stroke="#000" stroke-width="1.35" />
<line x1="315.86" y1="612" x2="315.86" y2="614.2" stroke="#000" stroke-width="1.35" />
<line x1="319.24" y1="612" x2="319.24" y2="614.2" stroke="#000" stroke-width="1.35" />
<line x1="322.1" y1="612" x2="322.1" y2="614.2" stroke="#000" stroke-width="1.35" />
<line x1="324.58" y1="612" x2="324.58" y2="614.2" stroke="#000" stroke-width="1.35" />
<line x1="326.77" y1="612" x2="326.77" y2="614.2" stroke="#000" stroke-width="1.35" />
<line x1="328.72" y1="612" x2="328.72" y2="616" stroke="#000" stroke-width="1.7" />
<line x1="341.58" y1="612" x2="341.58" y2="614.2" stroke="#000" stroke-width="1.35" />
<line x1="349.1" y1="612" x2="349.1" y2="614.2" stroke="#000" stroke-width="1.35" />
<line x1="354.44" y1="612" x2="354.44" y2="614.2" stroke="#000" stroke-width="1.35" />
<line x1="358.58" y1="612" x2="358.58" y2="614.2" stroke="#000" stroke-width="1.35" />
<line x1="361.96" y1="612" x2="361.96" y2="614.2" stroke="#000" stroke-width="1.35" />
<line x1="364.82" y1="612" x2="364.82" y2="614.2" stroke="#000" stroke-width="1.35" />
<line x1="367.3" y1="612" x2="367.3" y2="614.2" stroke="#000" stroke-width="1.35" />
<line x1="369.49" y1="612" x2="369.49" y2="614.2" stroke="#000" stroke-width="1.35" />
<line x1="371.44" y1="612" x2="371.44" y2="616" stroke="#000" stroke-width="1.7" />
<line x1="384.3" y1="612" x2="384.3" y2="614.2" stroke="#000" stroke-width="1.35" />
<line x1="391.82" y1="612" x2="391.82" y2="614.2" stroke="#000" stroke-width="1.35" />
<line x1="397.16" y1="612" x2="397.16" y2="614.2" stroke="#000" stroke-width="1.35" />
<line x1="401.3" y1="612" x2="401.3" y2="614.2" stroke="#000" stroke-width="1.35" />
<line x1="404.68" y1="612" x2="404.68" y2="614.2" stroke="#000" stroke-width="1.35" />
<line x1="407.54" y1="612" x2="407.54" y2="614.2" stroke="#000" stroke-width="1.35" />
<line x1="410.02" y1="612" x2="410.02" y2="614.2" stroke="#000" stroke-width="1.35" />
<line x1="412.21" y1="612" x2="412.21" y2="614.2" stroke="#000" stroke-width="1.35" />
<line x1="414.16" y1="612" x2="414.16" y2="616" stroke="#000" stroke-width="1.7" />
<line x1="427.02" y1="612" x2="427.02" y2="614.2" stroke="#000" stroke-width="1.35" />
<line x1="434.54" y1="612" x2="434.54" y2="614.2" stroke="#000" stroke-width="1.35" />
<line x1="439.88" y1="612" x2="439.88" y2="614.2" stroke="#000" stroke-width="1.35" />
<line x1="444.02" y1="612" x2="444.02" y2="614.2" stroke="#000" stroke-width="1.35" />
<line x1="447.4" y1="612" x2="447.4" y2="614.2" stroke="#000" stroke-width="1.35" />
<line x1="450.26" y1="612" x2="450.26" y2="614.2" stroke="#000" stroke-width="1.35" />
<line x1="452.74" y1="612" x2="452.74" y2="614.2" stroke="#000" stroke-width="1.35" />
<line x1="454.93" y1="612" x2="454.93" y2="614.2" stroke="#000" stroke-width="1.35" />
<line x1="456.88" y1="612" x2="456.88" y2="616" stroke="#000" stroke-width="1.7" />
<line x1="469.74" y1="612" x2="469.74" y2="614.2" stroke="#000" stroke-width="1.35" />
<line x1="477.26" y1="612" x2="477.26" y2="614.2" stroke="#000" stroke-width="1.35" />
<line x1="482.6" y1="612" x2="482.6" y2="614.2" stroke="#000" stroke-width="1.35" />
<line x1="486.74" y1="612" x2="486.74" y2="614.2" stroke="#000" stroke-width="1.35" />
<line x1="490.12" y1="612" x2="490.12" y2="614.2" stroke="#000" stroke-width="1.35" />
<line x1="492.98" y1="612" x2="492.98" y2="614.2" stroke="#000" stroke-width="1.35" />
<line x1="495.46" y1="612" x2="495.46" y2="614.2" stroke="#000" stroke-width="1.35" />
<line x1="497.65" y1="612" x2="497.65" y2="614.2" stroke="#000" stroke-width="1.35" />
<line x1="499.6" y1="612" x2="499.6" y2="616" stroke="#000" stroke-width="1.7" />
<text x="280" y="616.4" font-size="8.2" text-anchor="end" fill="#222">10<tspan font-size="6" dy="-2.7">1</tspan></text>
<text x="280" y="593.2" font-size="8.2" text-anchor="end" fill="#222">10<tspan font-size="6" dy="-2.7">2</tspan></text>
<text x="280" y="569.7" font-size="8.2" text-anchor="end" fill="#222">10<tspan font-size="6" dy="-2.7">3</tspan></text>
<text x="280" y="545.9" font-size="8.2" text-anchor="end" fill="#222">10<tspan font-size="6" dy="-2.7">4</tspan></text>
<text x="280" y="521.7" font-size="8.2" text-anchor="end" fill="#222">10<tspan font-size="6" dy="-2.7">5</tspan></text>
<text x="280" y="498.2" font-size="8.2" text-anchor="end" fill="#222">10<tspan font-size="6" dy="-2.7">6</tspan></text>
<text x="280" y="474.1" font-size="8.2" text-anchor="end" fill="#222">10<tspan font-size="6" dy="-2.7">7</tspan></text>
<text x="288.4" y="625.9" font-size="8.2" text-anchor="middle" fill="#222">10<tspan font-size="6" dy="-2.7">1</tspan></text>
<text x="330.8" y="625.9" font-size="8.2" text-anchor="middle" fill="#222">10<tspan font-size="6" dy="-2.7">2</tspan></text>
<text x="374.7" y="625.9" font-size="8.2" text-anchor="middle" fill="#222">10<tspan font-size="6" dy="-2.7">3</tspan></text>
<text x="416.4" y="625.9" font-size="8.2" text-anchor="middle" fill="#222">10<tspan font-size="6" dy="-2.7">4</tspan></text>
<text x="460" y="625.9" font-size="8.2" text-anchor="middle" fill="#222">10<tspan font-size="6" dy="-2.7">5</tspan></text>
<text x="504" y="625.9" font-size="8.2" text-anchor="middle" fill="#222">10<tspan font-size="6" dy="-2.7">6</tspan></text>
<text x="253" y="537" font-size="8.2" text-anchor="middle" fill="#222" transform="rotate(-90 253 537)" >Determined number of copies</text>
<text x="262.2" y="538" font-size="8.3" text-anchor="middle" fill="#222" transform="rotate(-90 262.2 538)" >(mean all platforms)</text>
<text x="394.8" y="634.7" font-size="8.3" text-anchor="middle" fill="#222" >Theoretical number of copies</text>
<line x1="314.2" y1="594.3" x2="484.7" y2="501.6" stroke="#000" stroke-width="1.35"/>
<line x1="314.2" y1="587.1" x2="314.2" y2="606.5" stroke="#000" stroke-width="2.1" />
<line x1="311.2" y1="587.1" x2="317.2" y2="587.1" stroke="#000" stroke-width="1.9" />
<line x1="311.2" y1="606.5" x2="317.2" y2="606.5" stroke="#000" stroke-width="1.9" />
<circle cx="314.2" cy="592.9" r="3.0" fill="#000"/>
<line x1="356.7" y1="569.3" x2="356.7" y2="577.9" stroke="#000" stroke-width="2.1" />
<line x1="353.7" y1="569.3" x2="359.7" y2="569.3" stroke="#000" stroke-width="1.9" />
<line x1="353.7" y1="577.9" x2="359.7" y2="577.9" stroke="#000" stroke-width="1.9" />
<circle cx="356.7" cy="573.1" r="3.0" fill="#000"/>
<line x1="399.4" y1="547.5" x2="399.4" y2="551.5" stroke="#000" stroke-width="2.1" />
<line x1="396.4" y1="547.5" x2="402.4" y2="547.5" stroke="#000" stroke-width="1.9" />
<line x1="396.4" y1="551.5" x2="402.4" y2="551.5" stroke="#000" stroke-width="1.9" />
<circle cx="399.4" cy="549.3" r="3.0" fill="#000"/>
<line x1="442.5" y1="521" x2="442.5" y2="530" stroke="#000" stroke-width="2.1" />
<line x1="439.5" y1="521" x2="445.5" y2="521" stroke="#000" stroke-width="1.9" />
<line x1="439.5" y1="530" x2="445.5" y2="530" stroke="#000" stroke-width="1.9" />
<circle cx="442.5" cy="525.5" r="3.0" fill="#000"/>
<line x1="484.7" y1="494.7" x2="484.7" y2="505.3" stroke="#000" stroke-width="2.1" />
<line x1="481.7" y1="494.7" x2="487.7" y2="494.7" stroke="#000" stroke-width="1.9" />
<line x1="481.7" y1="505.3" x2="487.7" y2="505.3" stroke="#000" stroke-width="1.9" />
<circle cx="484.7" cy="498.9" r="3.0" fill="#000"/>
</svg>
</body></html>
